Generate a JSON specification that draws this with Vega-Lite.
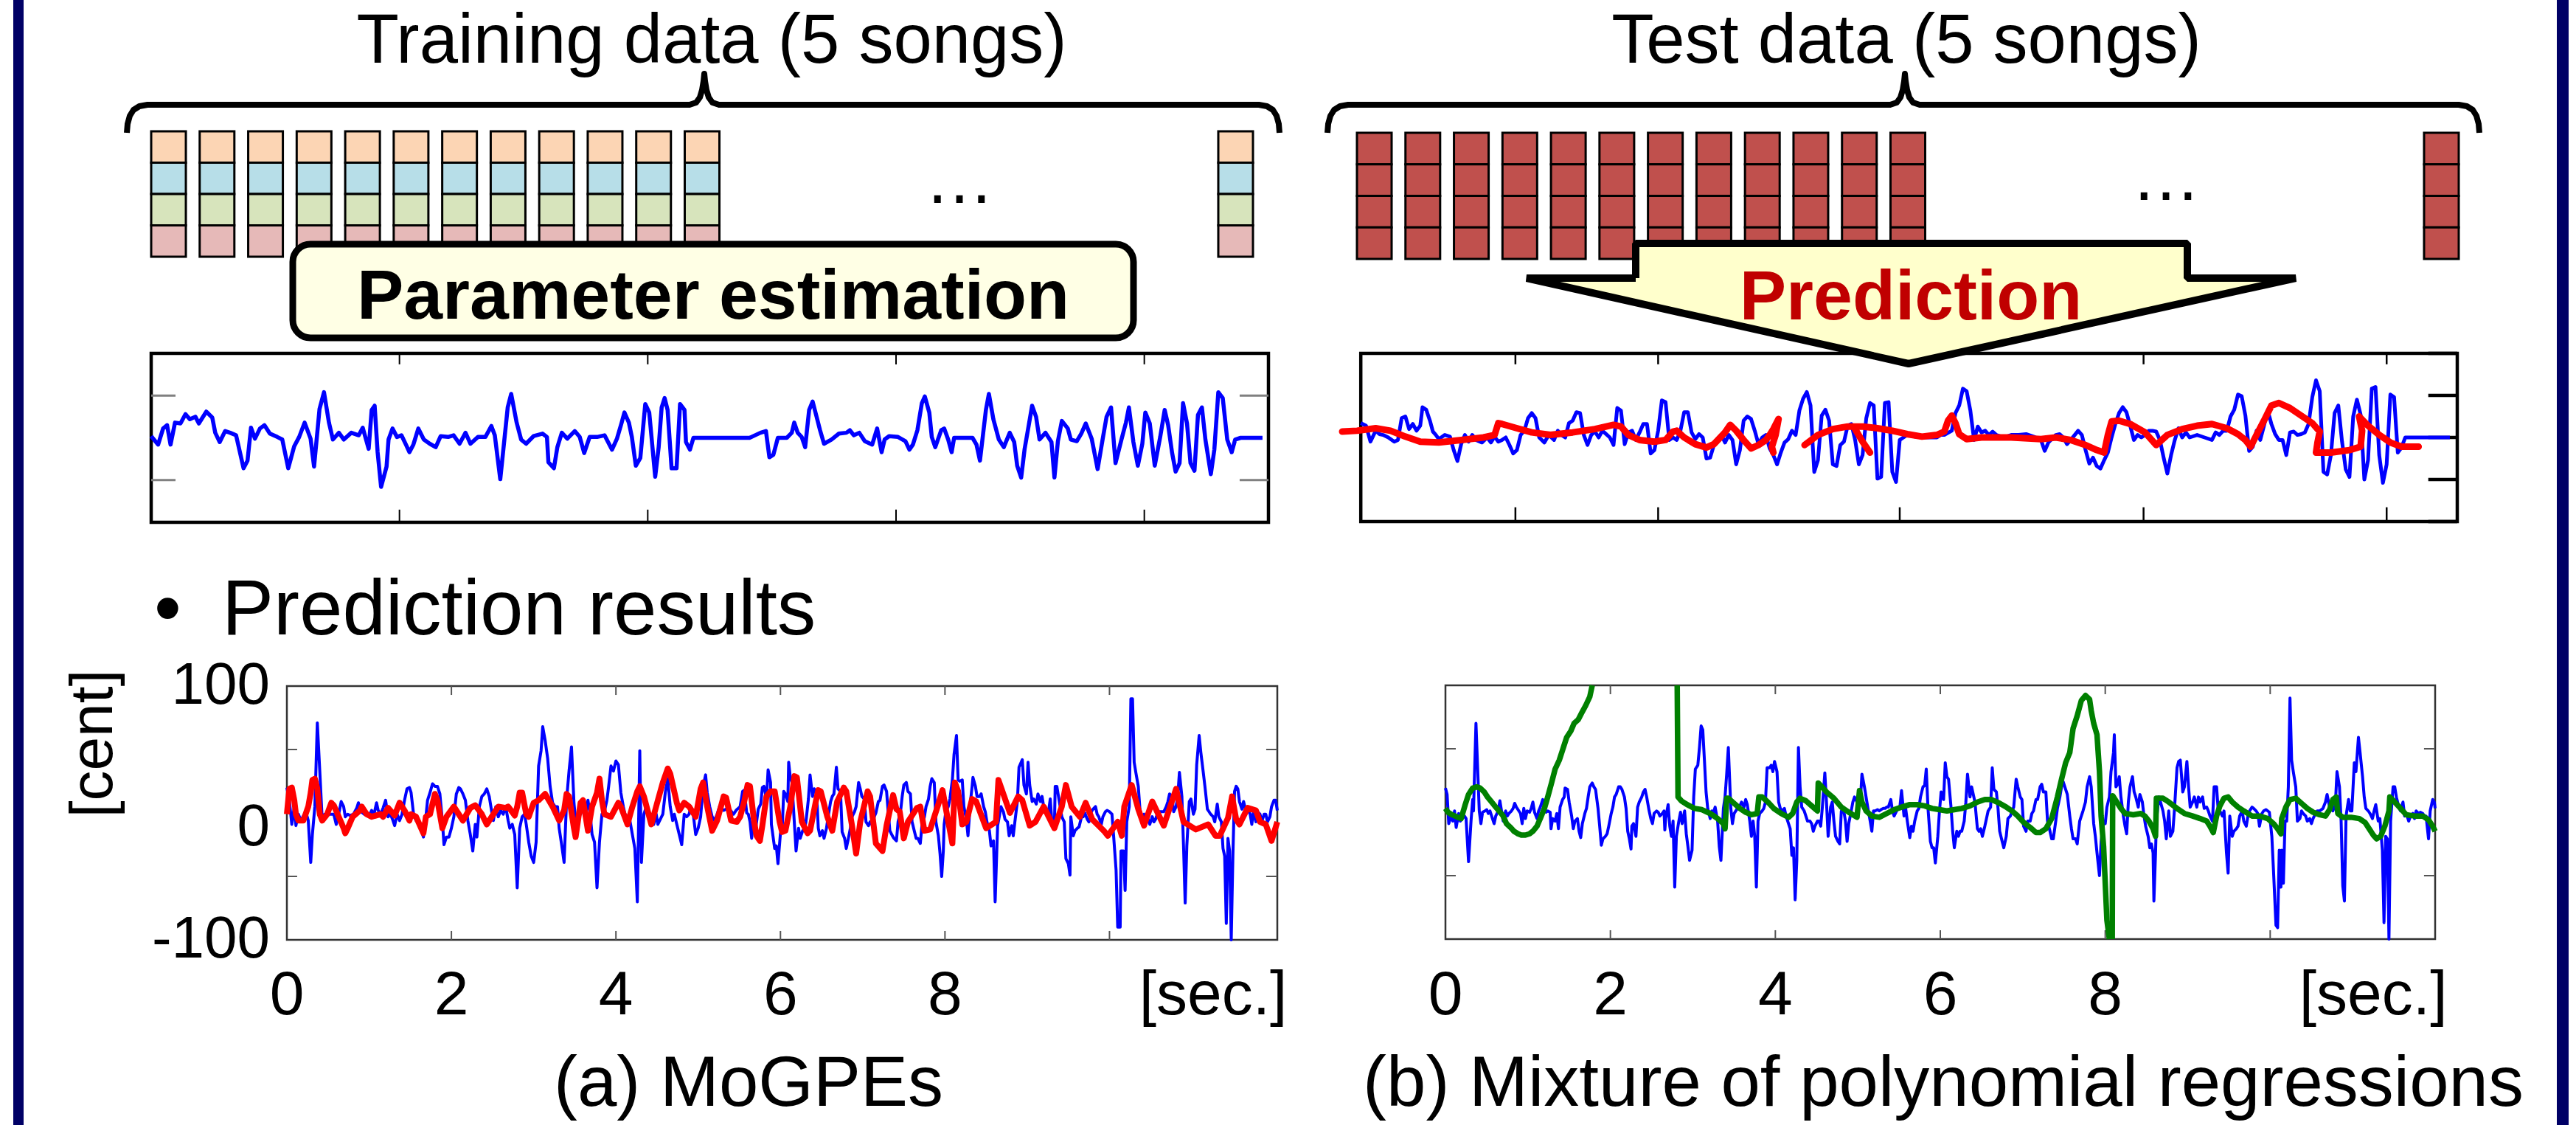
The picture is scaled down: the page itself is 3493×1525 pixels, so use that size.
{
"$schema": "https://vega.github.io/schema/vega-lite/v6.json",
"width": 3493, "height": 1525,
"autosize": {"type": "none"}, "padding": 0,
"background": "white",
"config": {"view": {"stroke": null}, "font": "Liberation Sans"},
"datasets": {
"blocks": [{"c":"c1","r":"r1"},{"c":"c1","r":"r2"},{"c":"c1","r":"r3"},{"c":"c1","r":"r4"},{"c":"c2","r":"r1"},{"c":"c2","r":"r2"},{"c":"c2","r":"r3"},{"c":"c2","r":"r4"},{"c":"c3","r":"r1"},{"c":"c3","r":"r2"},{"c":"c3","r":"r3"},{"c":"c3","r":"r4"},{"c":"c4","r":"r1"},{"c":"c4","r":"r2"},{"c":"c4","r":"r3"},{"c":"c4","r":"r4"},{"c":"c5","r":"r1"},{"c":"c5","r":"r2"},{"c":"c5","r":"r3"},{"c":"c5","r":"r4"},{"c":"c6","r":"r1"},{"c":"c6","r":"r2"},{"c":"c6","r":"r3"},{"c":"c6","r":"r4"},{"c":"c7","r":"r1"},{"c":"c7","r":"r2"},{"c":"c7","r":"r3"},{"c":"c7","r":"r4"},{"c":"c8","r":"r1"},{"c":"c8","r":"r2"},{"c":"c8","r":"r3"},{"c":"c8","r":"r4"},{"c":"c9","r":"r1"},{"c":"c9","r":"r2"},{"c":"c9","r":"r3"},{"c":"c9","r":"r4"},{"c":"c10","r":"r1"},{"c":"c10","r":"r2"},{"c":"c10","r":"r3"},{"c":"c10","r":"r4"},{"c":"c11","r":"r1"},{"c":"c11","r":"r2"},{"c":"c11","r":"r3"},{"c":"c11","r":"r4"},{"c":"c12","r":"r1"},{"c":"c12","r":"r2"},{"c":"c12","r":"r3"},{"c":"c12","r":"r4"},{"c":"c23","r":"r1"},{"c":"c23","r":"r2"},{"c":"c23","r":"r3"},{"c":"c23","r":"r4"}],
"tl": [{"t":0,"v":2},{"t":0.14,"v":-8},{"t":0.24,"v":11},{"t":0.32,"v":15},{"t":0.39,"v":-8},{"t":0.48,"v":18},{"t":0.59,"v":17},{"t":0.69,"v":28},{"t":0.78,"v":22},{"t":0.89,"v":25},{"t":0.96,"v":17},{"t":1.11,"v":31},{"t":1.23,"v":24},{"t":1.29,"v":6},{"t":1.38,"v":-5},{"t":1.49,"v":8},{"t":1.59,"v":6},{"t":1.71,"v":3},{"t":1.86,"v":-36},{"t":1.94,"v":-27},{"t":2.01,"v":12},{"t":2.09,"v":-1},{"t":2.19,"v":11},{"t":2.28,"v":15},{"t":2.39,"v":5},{"t":2.54,"v":1},{"t":2.64,"v":-2},{"t":2.76,"v":-36},{"t":2.88,"v":-10},{"t":2.98,"v":1},{"t":3.09,"v":18},{"t":3.21,"v":-1},{"t":3.28,"v":-34},{"t":3.39,"v":34},{"t":3.48,"v":54},{"t":3.58,"v":18},{"t":3.66,"v":-2},{"t":3.78,"v":6},{"t":3.88,"v":-2},{"t":4.03,"v":6},{"t":4.18,"v":3},{"t":4.26,"v":12},{"t":4.38,"v":-13},{"t":4.44,"v":33},{"t":4.5,"v":38},{"t":4.56,"v":-17},{"t":4.63,"v":-58},{"t":4.74,"v":-34},{"t":4.78,"v":-2},{"t":4.86,"v":11},{"t":4.95,"v":1},{"t":5.04,"v":3},{"t":5.13,"v":-8},{"t":5.2,"v":-17},{"t":5.28,"v":-8},{"t":5.38,"v":11},{"t":5.49,"v":-2},{"t":5.61,"v":-7},{"t":5.73,"v":-11},{"t":5.83,"v":2},{"t":5.98,"v":1},{"t":6.09,"v":3},{"t":6.21,"v":-7},{"t":6.33,"v":6},{"t":6.43,"v":-7},{"t":6.58,"v":1},{"t":6.73,"v":1},{"t":6.85,"v":14},{"t":6.92,"v":3},{"t":7.03,"v":-49},{"t":7.18,"v":36},{"t":7.25,"v":52},{"t":7.36,"v":18},{"t":7.45,"v":-2},{"t":7.55,"v":-7},{"t":7.7,"v":2},{"t":7.88,"v":5},{"t":7.97,"v":1},{"t":8,"v":-29},{"t":8.11,"v":-36},{"t":8.18,"v":-11},{"t":8.27,"v":6},{"t":8.38,"v":-1},{"t":8.53,"v":8},{"t":8.63,"v":1},{"t":8.72,"v":-18},{"t":8.83,"v":1},{"t":8.98,"v":1},{"t":9.13,"v":3},{"t":9.28,"v":-14},{"t":9.38,"v":-1},{"t":9.47,"v":17},{"t":9.53,"v":30},{"t":9.62,"v":18},{"t":9.68,"v":1},{"t":9.76,"v":-33},{"t":9.85,"v":-24},{"t":9.95,"v":40},{"t":10.03,"v":30},{"t":10.15,"v":-46},{"t":10.22,"v":-11},{"t":10.28,"v":36},{"t":10.34,"v":47},{"t":10.4,"v":33},{"t":10.48,"v":-36},{"t":10.58,"v":-36},{"t":10.65,"v":40},{"t":10.74,"v":33},{"t":10.77,"v":-5},{"t":10.85,"v":-14},{"t":10.92,"v":0},{"t":12.05,"v":0},{"t":12.27,"v":6},{"t":12.38,"v":8},{"t":12.45,"v":-23},{"t":12.53,"v":-20},{"t":12.62,"v":0},{"t":12.8,"v":0},{"t":12.9,"v":6},{"t":12.95,"v":18},{"t":13.02,"v":6},{"t":13.1,"v":1},{"t":13.17,"v":-11},{"t":13.25,"v":33},{"t":13.32,"v":43},{"t":13.4,"v":25},{"t":13.47,"v":9},{"t":13.55,"v":-7},{"t":13.7,"v":-2},{"t":13.85,"v":5},{"t":14,"v":6},{"t":14.07,"v":9},{"t":14.15,"v":3},{"t":14.26,"v":6},{"t":14.37,"v":-4},{"t":14.52,"v":-8},{"t":14.62,"v":11},{"t":14.71,"v":-17},{"t":14.77,"v":-2},{"t":14.86,"v":2},{"t":15.04,"v":1},{"t":15.19,"v":-4},{"t":15.27,"v":-14},{"t":15.34,"v":-8},{"t":15.43,"v":9},{"t":15.52,"v":41},{"t":15.58,"v":49},{"t":15.67,"v":30},{"t":15.72,"v":1},{"t":15.79,"v":-11},{"t":15.91,"v":9},{"t":15.97,"v":11},{"t":16.05,"v":-2},{"t":16.12,"v":-17},{"t":16.17,"v":0},{"t":16.54,"v":0},{"t":16.62,"v":-8},{"t":16.69,"v":-27},{"t":16.81,"v":33},{"t":16.87,"v":52},{"t":16.96,"v":22},{"t":17.07,"v":-2},{"t":17.17,"v":-11},{"t":17.29,"v":6},{"t":17.38,"v":-5},{"t":17.44,"v":-33},{"t":17.52,"v":-47},{"t":17.59,"v":-13},{"t":17.67,"v":14},{"t":17.74,"v":38},{"t":17.82,"v":25},{"t":17.89,"v":-2},{"t":18.01,"v":6},{"t":18.13,"v":-5},{"t":18.19,"v":-47},{"t":18.26,"v":-4},{"t":18.34,"v":20},{"t":18.46,"v":11},{"t":18.52,"v":-2},{"t":18.64,"v":-4},{"t":18.73,"v":5},{"t":18.82,"v":17},{"t":18.94,"v":-1},{"t":19.06,"v":-37},{"t":19.16,"v":-2},{"t":19.24,"v":25},{"t":19.33,"v":36},{"t":19.42,"v":-30},{"t":19.54,"v":-2},{"t":19.63,"v":18},{"t":19.69,"v":36},{"t":19.78,"v":-5},{"t":19.87,"v":-33},{"t":19.96,"v":-7},{"t":20.02,"v":30},{"t":20.11,"v":17},{"t":20.21,"v":-33},{"t":20.32,"v":1},{"t":20.41,"v":33},{"t":20.48,"v":15},{"t":20.56,"v":-18},{"t":20.63,"v":-40},{"t":20.71,"v":-30},{"t":20.78,"v":41},{"t":20.86,"v":17},{"t":20.93,"v":-30},{"t":21.01,"v":-39},{"t":21.08,"v":27},{"t":21.16,"v":36},{"t":21.23,"v":-2},{"t":21.34,"v":-43},{"t":21.41,"v":-14},{"t":21.49,"v":54},{"t":21.58,"v":47},{"t":21.67,"v":-2},{"t":21.76,"v":-17},{"t":21.83,"v":-2},{"t":21.94,"v":0},{"t":22.38,"v":0}],
"trb": [{"t":0.25,"v":17},{"t":0.32,"v":14},{"t":0.38,"v":-5},{"t":0.45,"v":8},{"t":0.5,"v":4},{"t":0.55,"v":3},{"t":0.62,"v":0},{"t":0.7,"v":-5},{"t":0.75,"v":-3},{"t":0.8,"v":23},{"t":0.85,"v":25},{"t":0.9,"v":10},{"t":0.95,"v":16},{"t":1,"v":8},{"t":1.05,"v":14},{"t":1.08,"v":36},{"t":1.13,"v":33},{"t":1.18,"v":20},{"t":1.22,"v":7},{"t":1.26,"v":3},{"t":1.3,"v":-2},{"t":1.38,"v":3},{"t":1.45,"v":1},{"t":1.5,"v":-15},{"t":1.55,"v":-28},{"t":1.6,"v":-8},{"t":1.65,"v":3},{"t":1.7,"v":-5},{"t":1.75,"v":3},{"t":1.8,"v":-3},{"t":1.88,"v":-6},{"t":1.95,"v":0},{"t":2,"v":-6},{"t":2.05,"v":1},{"t":2.1,"v":-5},{"t":2.15,"v":-3},{"t":2.2,"v":0},{"t":2.25,"v":-9},{"t":2.3,"v":-19},{"t":2.35,"v":-15},{"t":2.4,"v":3},{"t":2.45,"v":8},{"t":2.5,"v":23},{"t":2.55,"v":29},{"t":2.6,"v":23},{"t":2.65,"v":0},{"t":2.72,"v":-6},{"t":2.78,"v":3},{"t":2.85,"v":-3},{"t":2.9,"v":8},{"t":2.95,"v":3},{"t":3,"v":0},{"t":3.05,"v":17},{"t":3.1,"v":20},{"t":3.15,"v":30},{"t":3.2,"v":29},{"t":3.25,"v":3},{"t":3.3,"v":-9},{"t":3.35,"v":3},{"t":3.4,"v":7},{"t":3.45,"v":0},{"t":3.5,"v":8},{"t":3.55,"v":4},{"t":3.6,"v":0},{"t":3.65,"v":-9},{"t":3.7,"v":35},{"t":3.75,"v":32},{"t":3.8,"v":-8},{"t":3.85,"v":6},{"t":3.9,"v":8},{"t":3.95,"v":-3},{"t":4,"v":6},{"t":4.05,"v":16},{"t":4.1,"v":16},{"t":4.15,"v":-19},{"t":4.2,"v":-15},{"t":4.25,"v":8},{"t":4.3,"v":44},{"t":4.35,"v":42},{"t":4.4,"v":-3},{"t":4.45,"v":0},{"t":4.5,"v":-3},{"t":4.55,"v":8},{"t":4.6,"v":30},{"t":4.65,"v":30},{"t":4.7,"v":6},{"t":4.75,"v":-2},{"t":4.8,"v":4},{"t":4.85,"v":0},{"t":4.9,"v":-25},{"t":4.95,"v":-24},{"t":5,"v":-9},{"t":5.05,"v":-5},{"t":5.1,"v":3},{"t":5.15,"v":-6},{"t":5.2,"v":3},{"t":5.25,"v":-3},{"t":5.3,"v":-32},{"t":5.35,"v":-15},{"t":5.4,"v":20},{"t":5.45,"v":25},{"t":5.5,"v":22},{"t":5.55,"v":8},{"t":5.6,"v":-8},{"t":5.65,"v":0},{"t":5.7,"v":3},{"t":5.75,"v":-13},{"t":5.8,"v":-21},{"t":5.85,"v":-32},{"t":5.9,"v":-18},{"t":5.95,"v":-6},{"t":6,"v":-2},{"t":6.05,"v":8},{"t":6.1,"v":3},{"t":6.15,"v":32},{"t":6.2,"v":46},{"t":6.25,"v":54},{"t":6.3,"v":38},{"t":6.35,"v":-41},{"t":6.4,"v":-27},{"t":6.45,"v":26},{"t":6.5,"v":33},{"t":6.55,"v":20},{"t":6.6,"v":-32},{"t":6.65,"v":-34},{"t":6.7,"v":-9},{"t":6.75,"v":-5},{"t":6.8,"v":14},{"t":6.85,"v":16},{"t":6.9,"v":-3},{"t":6.95,"v":-32},{"t":7,"v":-21},{"t":7.05,"v":23},{"t":7.1,"v":41},{"t":7.15,"v":38},{"t":7.2,"v":-49},{"t":7.25,"v":-47},{"t":7.3,"v":41},{"t":7.35,"v":42},{"t":7.4,"v":-41},{"t":7.45,"v":-53},{"t":7.5,"v":-3},{"t":7.55,"v":0},{"t":7.6,"v":3},{"t":7.7,"v":1},{"t":7.8,"v":0},{"t":8,"v":0},{"t":8.05,"v":3},{"t":8.1,"v":3},{"t":8.2,"v":8},{"t":8.25,"v":29},{"t":8.3,"v":38},{"t":8.35,"v":58},{"t":8.4,"v":55},{"t":8.45,"v":32},{"t":8.5,"v":-3},{"t":8.55,"v":13},{"t":8.6,"v":6},{"t":8.65,"v":8},{"t":8.7,"v":3},{"t":8.75,"v":7},{"t":8.8,"v":3},{"t":8.9,"v":0},{"t":9,"v":3},{"t":9.1,"v":3},{"t":9.2,"v":4},{"t":9.3,"v":1},{"t":9.4,"v":-3},{"t":9.45,"v":-16},{"t":9.5,"v":-6},{"t":9.6,"v":3},{"t":9.65,"v":4},{"t":9.7,"v":0},{"t":9.75,"v":-8},{"t":9.8,"v":-3},{"t":9.9,"v":8},{"t":9.95,"v":3},{"t":10,"v":-15},{"t":10.05,"v":-31},{"t":10.1,"v":-24},{"t":10.15,"v":-34},{"t":10.2,"v":-37},{"t":10.25,"v":-27},{"t":10.3,"v":-18},{"t":10.35,"v":0},{"t":10.4,"v":16},{"t":10.45,"v":29},{"t":10.5,"v":36},{"t":10.55,"v":30},{"t":10.6,"v":14},{"t":10.65,"v":-3},{"t":10.7,"v":3},{"t":10.75,"v":0},{"t":10.8,"v":3},{"t":10.85,"v":8},{"t":10.9,"v":8},{"t":10.95,"v":7},{"t":11,"v":-3},{"t":11.05,"v":-24},{"t":11.1,"v":-43},{"t":11.15,"v":-21},{"t":11.2,"v":-3},{"t":11.25,"v":11},{"t":11.3,"v":0},{"t":11.35,"v":6},{"t":11.4,"v":0},{"t":11.5,"v":3},{"t":11.6,"v":0},{"t":11.7,"v":-3},{"t":11.75,"v":6},{"t":11.8,"v":3},{"t":11.85,"v":8},{"t":11.9,"v":8},{"t":11.95,"v":25},{"t":12,"v":33},{"t":12.05,"v":51},{"t":12.1,"v":49},{"t":12.15,"v":26},{"t":12.2,"v":-16},{"t":12.25,"v":-11},{"t":12.3,"v":8},{"t":12.35,"v":-3},{"t":12.4,"v":14},{"t":12.45,"v":32},{"t":12.5,"v":16},{"t":12.55,"v":4},{"t":12.6,"v":-3},{"t":12.65,"v":-3},{"t":12.7,"v":-21},{"t":12.75,"v":6},{"t":12.8,"v":7},{"t":12.85,"v":3},{"t":12.9,"v":4},{"t":12.95,"v":6},{"t":13,"v":16},{"t":13.05,"v":48},{"t":13.1,"v":68},{"t":13.15,"v":55},{"t":13.2,"v":-41},{"t":13.25,"v":-44},{"t":13.3,"v":-21},{"t":13.35,"v":29},{"t":13.4,"v":38},{"t":13.45,"v":-5},{"t":13.5,"v":-38},{"t":13.55,"v":-47},{"t":13.6,"v":25},{"t":13.65,"v":45},{"t":13.7,"v":27},{"t":13.75,"v":-50},{"t":13.8,"v":-27},{"t":13.85,"v":58},{"t":13.9,"v":60},{"t":13.95,"v":-21},{"t":14,"v":-54},{"t":14.05,"v":-32},{"t":14.1,"v":51},{"t":14.15,"v":48},{"t":14.2,"v":-18},{"t":14.25,"v":-12},{"t":14.3,"v":0},{"t":14.9,"v":0}],
"trr": [{"s":"a","t":0,"v":7},{"s":"a","t":0.2,"v":8},{"s":"a","t":0.45,"v":11},{"s":"a","t":0.65,"v":8},{"s":"a","t":0.85,"v":1},{"s":"a","t":1.05,"v":-5},{"s":"a","t":1.3,"v":-6},{"s":"a","t":1.6,"v":-3},{"s":"a","t":1.9,"v":0},{"s":"a","t":2.05,"v":3},{"s":"a","t":2.1,"v":17},{"s":"a","t":2.15,"v":16},{"s":"a","t":2.35,"v":11},{"s":"a","t":2.55,"v":6},{"s":"a","t":2.8,"v":3},{"s":"a","t":3.1,"v":6},{"s":"a","t":3.4,"v":10},{"s":"a","t":3.65,"v":15},{"s":"a","t":3.75,"v":13},{"s":"a","t":3.85,"v":3},{"s":"a","t":4,"v":-3},{"s":"a","t":4.2,"v":-5},{"s":"a","t":4.35,"v":-3},{"s":"a","t":4.45,"v":7},{"s":"a","t":4.5,"v":8},{"s":"a","t":4.6,"v":0},{"s":"a","t":4.75,"v":-8},{"s":"a","t":4.9,"v":-12},{"s":"a","t":5,"v":-8},{"s":"a","t":5.15,"v":6},{"s":"a","t":5.22,"v":15},{"s":"a","t":5.3,"v":8},{"s":"a","t":5.4,"v":-3},{"s":"a","t":5.5,"v":-13},{"s":"a","t":5.6,"v":-9},{"s":"a","t":5.7,"v":-3},{"s":"a","t":5.75,"v":3},{"s":"a","t":5.8,"v":10},{"s":"a","t":5.87,"v":22},{"s":"a","t":5.83,"v":3},{"s":"a","t":5.78,"v":-11},{"s":"a","t":5.8,"v":-18},{"s":"b","t":6.22,"v":-9},{"s":"b","t":6.4,"v":3},{"s":"b","t":6.6,"v":10},{"s":"b","t":6.8,"v":13},{"s":"b","t":7,"v":13},{"s":"b","t":7.2,"v":11},{"s":"b","t":7.4,"v":8},{"s":"b","t":7.6,"v":4},{"s":"b","t":7.8,"v":1},{"s":"b","t":8,"v":3},{"s":"b","t":8.1,"v":7},{"s":"b","t":8.15,"v":20},{"s":"b","t":8.2,"v":26},{"s":"b","t":8.25,"v":17},{"s":"b","t":8.3,"v":4},{"s":"b","t":8.4,"v":-2},{"s":"b","t":8.6,"v":0},{"s":"b","t":9,"v":0},{"s":"b","t":9.4,"v":-2},{"s":"b","t":9.6,"v":0},{"s":"b","t":9.8,"v":-3},{"s":"b","t":10,"v":-9},{"s":"b","t":10.15,"v":-15},{"s":"b","t":10.25,"v":-18},{"s":"b","t":10.3,"v":3},{"s":"b","t":10.35,"v":19},{"s":"b","t":10.45,"v":20},{"s":"b","t":10.6,"v":16},{"s":"b","t":10.8,"v":6},{"s":"b","t":10.95,"v":-9},{"s":"b","t":11.1,"v":3},{"s":"b","t":11.3,"v":10},{"s":"b","t":11.5,"v":14},{"s":"b","t":11.7,"v":16},{"s":"b","t":11.9,"v":11},{"s":"b","t":12.05,"v":4},{"s":"b","t":12.15,"v":-3},{"s":"b","t":12.22,"v":-11},{"s":"b","t":12.3,"v":3},{"s":"b","t":12.4,"v":20},{"s":"b","t":12.5,"v":38},{"s":"b","t":12.6,"v":41},{"s":"b","t":12.75,"v":35},{"s":"b","t":12.9,"v":26},{"s":"b","t":13.05,"v":17},{"s":"b","t":13.15,"v":7},{"s":"b","t":13.12,"v":-6},{"s":"b","t":13.1,"v":-18},{"s":"b","t":13.3,"v":-18},{"s":"b","t":13.55,"v":-15},{"s":"b","t":13.7,"v":-11},{"s":"b","t":13.72,"v":8},{"s":"b","t":13.68,"v":25},{"s":"b","t":13.8,"v":14},{"s":"b","t":13.95,"v":3},{"s":"b","t":14.1,"v":-6},{"s":"b","t":14.25,"v":-11},{"s":"b","t":14.48,"v":-11},{"s":"c","t":6.9,"v":10},{"s":"c","t":7,"v":-5},{"s":"c","t":7.1,"v":-18}],
"blb": [{"t":0,"v":20},{"t":0.03,"v":10},{"t":0.06,"v":-9},{"t":0.09,"v":5},{"t":0.11,"v":-10},{"t":0.14,"v":-1},{"t":0.17,"v":-6},{"t":0.23,"v":1},{"t":0.26,"v":-6},{"t":0.29,"v":-39},{"t":0.31,"v":-17},{"t":0.34,"v":5},{"t":0.37,"v":71},{"t":0.4,"v":33},{"t":0.43,"v":-6},{"t":0.46,"v":-1},{"t":0.51,"v":-1},{"t":0.57,"v":-1},{"t":0.6,"v":-9},{"t":0.63,"v":-1},{"t":0.66,"v":9},{"t":0.69,"v":5},{"t":0.71,"v":-3},{"t":0.74,"v":-1},{"t":0.77,"v":-2},{"t":0.81,"v":-1},{"t":0.85,"v":4},{"t":0.87,"v":8},{"t":0.9,"v":1},{"t":0.94,"v":-1},{"t":1,"v":-2},{"t":1.03,"v":2},{"t":1.06,"v":-1},{"t":1.09,"v":8},{"t":1.11,"v":2},{"t":1.14,"v":-1},{"t":1.17,"v":4},{"t":1.2,"v":10},{"t":1.23,"v":-3},{"t":1.26,"v":-1},{"t":1.29,"v":-6},{"t":1.31,"v":-10},{"t":1.34,"v":-1},{"t":1.37,"v":-6},{"t":1.4,"v":-1},{"t":1.43,"v":10},{"t":1.46,"v":19},{"t":1.49,"v":20},{"t":1.51,"v":16},{"t":1.54,"v":-1},{"t":1.57,"v":-6},{"t":1.6,"v":-6},{"t":1.66,"v":-19},{"t":1.69,"v":-3},{"t":1.71,"v":10},{"t":1.74,"v":16},{"t":1.77,"v":23},{"t":1.8,"v":21},{"t":1.83,"v":21},{"t":1.86,"v":15},{"t":1.89,"v":-6},{"t":1.91,"v":-25},{"t":1.94,"v":-19},{"t":1.97,"v":-19},{"t":2,"v":-12},{"t":2.03,"v":-3},{"t":2.06,"v":15},{"t":2.09,"v":20},{"t":2.11,"v":19},{"t":2.14,"v":15},{"t":2.17,"v":10},{"t":2.2,"v":-6},{"t":2.23,"v":-17},{"t":2.26,"v":-30},{"t":2.29,"v":-9},{"t":2.31,"v":-19},{"t":2.34,"v":5},{"t":2.37,"v":13},{"t":2.4,"v":15},{"t":2.43,"v":19},{"t":2.46,"v":13},{"t":2.49,"v":1},{"t":2.51,"v":-6},{"t":2.54,"v":5},{"t":2.57,"v":-3},{"t":2.6,"v":2},{"t":2.63,"v":-1},{"t":2.66,"v":5},{"t":2.69,"v":-6},{"t":2.71,"v":-12},{"t":2.74,"v":-9},{"t":2.77,"v":-17},{"t":2.8,"v":-59},{"t":2.83,"v":-12},{"t":2.86,"v":-3},{"t":2.89,"v":-1},{"t":2.91,"v":-9},{"t":2.94,"v":-23},{"t":2.97,"v":-34},{"t":3,"v":-39},{"t":3.03,"v":-23},{"t":3.06,"v":37},{"t":3.09,"v":49},{"t":3.11,"v":68},{"t":3.14,"v":57},{"t":3.17,"v":43},{"t":3.2,"v":21},{"t":3.23,"v":8},{"t":3.26,"v":5},{"t":3.29,"v":5},{"t":3.31,"v":-12},{"t":3.34,"v":-25},{"t":3.37,"v":-39},{"t":3.4,"v":10},{"t":3.43,"v":33},{"t":3.46,"v":52},{"t":3.49,"v":8},{"t":3.51,"v":-6},{"t":3.54,"v":-3},{"t":3.57,"v":-1},{"t":3.6,"v":5},{"t":3.63,"v":-1},{"t":3.66,"v":10},{"t":3.69,"v":-3},{"t":3.71,"v":-17},{"t":3.74,"v":-23},{"t":3.77,"v":-59},{"t":3.8,"v":-23},{"t":3.83,"v":-1},{"t":3.86,"v":1},{"t":3.89,"v":10},{"t":3.91,"v":20},{"t":3.94,"v":37},{"t":3.97,"v":33},{"t":4,"v":41},{"t":4.03,"v":38},{"t":4.06,"v":16},{"t":4.09,"v":5},{"t":4.11,"v":-1},{"t":4.14,"v":-3},{"t":4.17,"v":-6},{"t":4.2,"v":-17},{"t":4.23,"v":-28},{"t":4.26,"v":-70},{"t":4.29,"v":49},{"t":4.31,"v":-39},{"t":4.34,"v":-1},{"t":4.37,"v":5},{"t":4.4,"v":-1},{"t":4.43,"v":-3},{"t":4.46,"v":-9},{"t":4.49,"v":-1},{"t":4.51,"v":-9},{"t":4.57,"v":-1},{"t":4.6,"v":16},{"t":4.63,"v":27},{"t":4.66,"v":5},{"t":4.69,"v":-6},{"t":4.71,"v":-1},{"t":4.74,"v":-9},{"t":4.77,"v":-17},{"t":4.8,"v":-25},{"t":4.83,"v":-1},{"t":4.86,"v":-3},{"t":4.89,"v":-1},{"t":4.91,"v":5},{"t":4.94,"v":-1},{"t":4.97,"v":-17},{"t":5,"v":-12},{"t":5.03,"v":-3},{"t":5.06,"v":21},{"t":5.09,"v":30},{"t":5.11,"v":16},{"t":5.14,"v":5},{"t":5.17,"v":-3},{"t":5.2,"v":-6},{"t":5.23,"v":-1},{"t":5.26,"v":5},{"t":5.31,"v":2},{"t":5.37,"v":4},{"t":5.43,"v":-1},{"t":5.46,"v":2},{"t":5.51,"v":5},{"t":5.54,"v":17},{"t":5.56,"v":18},{"t":5.59,"v":0},{"t":5.61,"v":-1},{"t":5.63,"v":-7},{"t":5.65,"v":-20},{"t":5.67,"v":-7},{"t":5.7,"v":-12},{"t":5.73,"v":3},{"t":5.76,"v":7},{"t":5.78,"v":20},{"t":5.8,"v":21},{"t":5.83,"v":11},{"t":5.85,"v":34},{"t":5.88,"v":24},{"t":5.89,"v":-9},{"t":5.93,"v":-28},{"t":5.95,"v":-26},{"t":5.97,"v":-40},{"t":6,"v":-16},{"t":6.02,"v":-14},{"t":6.04,"v":17},{"t":6.06,"v":15},{"t":6.09,"v":9},{"t":6.1,"v":40},{"t":6.12,"v":28},{"t":6.14,"v":24},{"t":6.17,"v":-9},{"t":6.19,"v":-30},{"t":6.22,"v":-12},{"t":6.24,"v":-20},{"t":6.27,"v":-14},{"t":6.29,"v":-14},{"t":6.31,"v":-7},{"t":6.34,"v":11},{"t":6.36,"v":30},{"t":6.39,"v":13},{"t":6.41,"v":19},{"t":6.44,"v":15},{"t":6.46,"v":-12},{"t":6.48,"v":-18},{"t":6.51,"v":-14},{"t":6.53,"v":-20},{"t":6.56,"v":-12},{"t":6.58,"v":-3},{"t":6.61,"v":9},{"t":6.63,"v":13},{"t":6.65,"v":15},{"t":6.68,"v":36},{"t":6.7,"v":19},{"t":6.73,"v":17},{"t":6.75,"v":-15},{"t":6.78,"v":-20},{"t":6.8,"v":-28},{"t":6.82,"v":-22},{"t":6.85,"v":-12},{"t":6.87,"v":-3},{"t":6.9,"v":1},{"t":6.92,"v":5},{"t":6.95,"v":24},{"t":6.97,"v":19},{"t":6.99,"v":13},{"t":7.02,"v":11},{"t":7.04,"v":-7},{"t":7.07,"v":-10},{"t":7.09,"v":-7},{"t":7.12,"v":-10},{"t":7.14,"v":-3},{"t":7.16,"v":0},{"t":7.19,"v":9},{"t":7.21,"v":10},{"t":7.24,"v":21},{"t":7.26,"v":22},{"t":7.29,"v":17},{"t":7.31,"v":1},{"t":7.33,"v":-14},{"t":7.36,"v":-18},{"t":7.38,"v":-20},{"t":7.41,"v":-22},{"t":7.43,"v":-7},{"t":7.46,"v":1},{"t":7.48,"v":13},{"t":7.5,"v":22},{"t":7.53,"v":24},{"t":7.55,"v":17},{"t":7.58,"v":15},{"t":7.6,"v":-7},{"t":7.63,"v":-15},{"t":7.65,"v":-20},{"t":7.67,"v":-20},{"t":7.7,"v":-24},{"t":7.72,"v":-10},{"t":7.75,"v":-3},{"t":7.77,"v":5},{"t":7.8,"v":11},{"t":7.82,"v":21},{"t":7.84,"v":27},{"t":7.87,"v":24},{"t":7.89,"v":-7},{"t":7.92,"v":-18},{"t":7.94,"v":-32},{"t":7.96,"v":-50},{"t":7.98,"v":-30},{"t":7.99,"v":-9},{"t":8.01,"v":1},{"t":8.04,"v":5},{"t":8.06,"v":11},{"t":8.09,"v":26},{"t":8.11,"v":46},{"t":8.14,"v":61},{"t":8.16,"v":26},{"t":8.18,"v":25},{"t":8.21,"v":26},{"t":8.23,"v":5},{"t":8.26,"v":-5},{"t":8.28,"v":-18},{"t":8.31,"v":9},{"t":8.33,"v":21},{"t":8.34,"v":28},{"t":8.37,"v":21},{"t":8.39,"v":13},{"t":8.42,"v":13},{"t":8.44,"v":15},{"t":8.47,"v":5},{"t":8.49,"v":1},{"t":8.51,"v":-7},{"t":8.54,"v":-14},{"t":8.56,"v":-26},{"t":8.59,"v":-22},{"t":8.61,"v":-70},{"t":8.64,"v":-10},{"t":8.66,"v":-3},{"t":8.68,"v":5},{"t":8.71,"v":1},{"t":8.73,"v":-5},{"t":8.76,"v":-7},{"t":8.78,"v":-18},{"t":8.81,"v":-10},{"t":8.83,"v":-18},{"t":8.85,"v":-7},{"t":8.88,"v":9},{"t":8.9,"v":36},{"t":8.94,"v":42},{"t":8.96,"v":22},{"t":8.99,"v":15},{"t":9.01,"v":40},{"t":9.03,"v":22},{"t":9.06,"v":9},{"t":9.08,"v":11},{"t":9.11,"v":7},{"t":9.13,"v":15},{"t":9.16,"v":9},{"t":9.18,"v":13},{"t":9.2,"v":5},{"t":9.23,"v":1},{"t":9.25,"v":-3},{"t":9.28,"v":11},{"t":9.3,"v":-7},{"t":9.33,"v":-12},{"t":9.34,"v":21},{"t":9.36,"v":21},{"t":9.39,"v":9},{"t":9.42,"v":-3},{"t":9.45,"v":-7},{"t":9.47,"v":-36},{"t":9.5,"v":-40},{"t":9.52,"v":-49},{"t":9.53,"v":-3},{"t":9.56,"v":-18},{"t":9.58,"v":-14},{"t":9.61,"v":-12},{"t":9.63,"v":-11},{"t":9.66,"v":-3},{"t":9.68,"v":-3},{"t":9.7,"v":0},{"t":9.73,"v":-5},{"t":9.75,"v":-7},{"t":9.78,"v":1},{"t":9.8,"v":3},{"t":9.83,"v":5},{"t":9.85,"v":-1},{"t":9.87,"v":-3},{"t":9.9,"v":-9},{"t":9.92,"v":-3},{"t":9.95,"v":1},{"t":9.97,"v":2},{"t":10,"v":1},{"t":10.03,"v":-1},{"t":10.05,"v":-18},{"t":10.08,"v":-45},{"t":10.1,"v":-90},{"t":10.13,"v":-90},{"t":10.14,"v":-30},{"t":10.17,"v":-30},{"t":10.19,"v":-61},{"t":10.21,"v":-7},{"t":10.24,"v":5},{"t":10.26,"v":90},{"t":10.28,"v":90},{"t":10.3,"v":40},{"t":10.32,"v":32},{"t":10.35,"v":21},{"t":10.37,"v":3},{"t":10.39,"v":-3},{"t":10.42,"v":-1},{"t":10.44,"v":-7},{"t":10.47,"v":-5},{"t":10.49,"v":-9},{"t":10.52,"v":-3},{"t":10.54,"v":-7},{"t":10.56,"v":-5},{"t":10.59,"v":1},{"t":10.61,"v":1},{"t":10.66,"v":1},{"t":10.69,"v":5},{"t":10.71,"v":9},{"t":10.73,"v":15},{"t":10.76,"v":13},{"t":10.78,"v":1},{"t":10.81,"v":5},{"t":10.83,"v":13},{"t":10.85,"v":32},{"t":10.88,"v":13},{"t":10.9,"v":-26},{"t":10.92,"v":-71},{"t":10.94,"v":-26},{"t":10.97,"v":9},{"t":10.99,"v":11},{"t":11.02,"v":-1},{"t":11.04,"v":3},{"t":11.06,"v":38},{"t":11.09,"v":61},{"t":11.11,"v":48},{"t":11.14,"v":32},{"t":11.16,"v":21},{"t":11.19,"v":3},{"t":11.21,"v":1},{"t":11.23,"v":-1},{"t":11.26,"v":-3},{"t":11.28,"v":-7},{"t":11.31,"v":7},{"t":11.33,"v":-3},{"t":11.36,"v":-7},{"t":11.38,"v":-28},{"t":11.4,"v":-34},{"t":11.42,"v":-87},{"t":11.44,"v":-20},{"t":11.46,"v":-30},{"t":11.48,"v":-100},{"t":11.5,"v":-34},{"t":11.52,"v":17},{"t":11.54,"v":21},{"t":11.56,"v":19},{"t":11.58,"v":9},{"t":11.61,"v":3},{"t":11.63,"v":9},{"t":11.66,"v":1},{"t":11.68,"v":3},{"t":11.71,"v":-1},{"t":11.73,"v":-9},{"t":11.75,"v":1},{"t":11.78,"v":-7},{"t":11.8,"v":1},{"t":11.83,"v":-1},{"t":11.85,"v":-7},{"t":11.88,"v":-1},{"t":11.9,"v":-1},{"t":11.92,"v":-7},{"t":11.95,"v":-3},{"t":11.97,"v":5},{"t":12,"v":10},{"t":12.02,"v":10},{"t":12.04,"v":2}],
"blr": [{"t":0,"v":-1},{"t":0.03,"v":19},{"t":0.06,"v":20},{"t":0.09,"v":10},{"t":0.11,"v":-1},{"t":0.14,"v":-6},{"t":0.2,"v":-6},{"t":0.26,"v":5},{"t":0.29,"v":16},{"t":0.31,"v":26},{"t":0.34,"v":27},{"t":0.37,"v":19},{"t":0.4,"v":-1},{"t":0.43,"v":-6},{"t":0.49,"v":-1},{"t":0.54,"v":8},{"t":0.57,"v":6},{"t":0.63,"v":-3},{"t":0.69,"v":-12},{"t":0.71,"v":-16},{"t":0.74,"v":-12},{"t":0.8,"v":-3},{"t":0.89,"v":2},{"t":0.91,"v":5},{"t":0.97,"v":-1},{"t":1.03,"v":-3},{"t":1.14,"v":-1},{"t":1.17,"v":-3},{"t":1.23,"v":4},{"t":1.31,"v":-2},{"t":1.37,"v":8},{"t":1.43,"v":2},{"t":1.49,"v":-6},{"t":1.51,"v":-1},{"t":1.57,"v":-3},{"t":1.66,"v":-16},{"t":1.69,"v":-3},{"t":1.74,"v":-1},{"t":1.8,"v":15},{"t":1.83,"v":10},{"t":1.89,"v":-12},{"t":1.94,"v":-3},{"t":2.03,"v":5},{"t":2.09,"v":-1},{"t":2.14,"v":-6},{"t":2.23,"v":4},{"t":2.29,"v":6},{"t":2.37,"v":-1},{"t":2.43,"v":-9},{"t":2.51,"v":-1},{"t":2.57,"v":5},{"t":2.66,"v":4},{"t":2.69,"v":5},{"t":2.77,"v":-2},{"t":2.8,"v":5},{"t":2.83,"v":16},{"t":2.86,"v":16},{"t":2.91,"v":-1},{"t":2.94,"v":-3},{"t":3,"v":8},{"t":3.06,"v":10},{"t":3.14,"v":15},{"t":3.23,"v":5},{"t":3.31,"v":-6},{"t":3.37,"v":2},{"t":3.4,"v":15},{"t":3.43,"v":13},{"t":3.49,"v":-12},{"t":3.51,"v":-19},{"t":3.57,"v":8},{"t":3.6,"v":10},{"t":3.66,"v":-14},{"t":3.71,"v":5},{"t":3.77,"v":16},{"t":3.8,"v":27},{"t":3.83,"v":10},{"t":3.86,"v":-1},{"t":3.94,"v":-3},{"t":4.03,"v":8},{"t":4.06,"v":5},{"t":4.14,"v":-9},{"t":4.2,"v":5},{"t":4.26,"v":17},{"t":4.29,"v":21},{"t":4.34,"v":13},{"t":4.43,"v":-9},{"t":4.51,"v":10},{"t":4.57,"v":24},{"t":4.63,"v":35},{"t":4.66,"v":31},{"t":4.74,"v":8},{"t":4.77,"v":2},{"t":4.83,"v":8},{"t":4.89,"v":5},{"t":4.97,"v":-3},{"t":5.03,"v":19},{"t":5.06,"v":24},{"t":5.11,"v":5},{"t":5.17,"v":-14},{"t":5.23,"v":-6},{"t":5.31,"v":13},{"t":5.34,"v":12},{"t":5.4,"v":-6},{"t":5.47,"v":-7},{"t":5.51,"v":-3},{"t":5.56,"v":9},{"t":5.6,"v":22},{"t":5.63,"v":21},{"t":5.68,"v":-7},{"t":5.71,"v":-18},{"t":5.75,"v":-22},{"t":5.78,"v":-10},{"t":5.83,"v":13},{"t":5.88,"v":17},{"t":5.93,"v":17},{"t":5.99,"v":-7},{"t":6.02,"v":-15},{"t":6.06,"v":-14},{"t":6.12,"v":5},{"t":6.17,"v":29},{"t":6.2,"v":28},{"t":6.26,"v":-7},{"t":6.33,"v":-16},{"t":6.36,"v":-14},{"t":6.43,"v":9},{"t":6.46,"v":18},{"t":6.49,"v":17},{"t":6.57,"v":-3},{"t":6.63,"v":-14},{"t":6.69,"v":9},{"t":6.77,"v":20},{"t":6.8,"v":17},{"t":6.87,"v":-10},{"t":6.92,"v":-32},{"t":6.97,"v":-7},{"t":7.06,"v":17},{"t":7.09,"v":13},{"t":7.16,"v":-24},{"t":7.24,"v":-30},{"t":7.29,"v":-10},{"t":7.37,"v":14},{"t":7.41,"v":3},{"t":7.45,"v":1},{"t":7.5,"v":-20},{"t":7.55,"v":-7},{"t":7.66,"v":4},{"t":7.7,"v":5},{"t":7.75,"v":-14},{"t":7.82,"v":-13},{"t":7.92,"v":7},{"t":7.97,"v":18},{"t":8.04,"v":-7},{"t":8.09,"v":-24},{"t":8.12,"v":24},{"t":8.16,"v":17},{"t":8.21,"v":-9},{"t":8.26,"v":-7},{"t":8.33,"v":11},{"t":8.38,"v":9},{"t":8.5,"v":-12},{"t":8.62,"v":-7},{"t":8.65,"v":26},{"t":8.72,"v":13},{"t":8.79,"v":0},{"t":8.89,"v":13},{"t":8.94,"v":10},{"t":9.03,"v":-10},{"t":9.1,"v":-7},{"t":9.2,"v":5},{"t":9.33,"v":-12},{"t":9.42,"v":5},{"t":9.47,"v":22},{"t":9.54,"v":5},{"t":9.64,"v":-3},{"t":9.71,"v":8},{"t":9.79,"v":-5},{"t":9.93,"v":-14},{"t":9.98,"v":-18},{"t":10.1,"v":-7},{"t":10.15,"v":-18},{"t":10.18,"v":5},{"t":10.27,"v":22},{"t":10.35,"v":3},{"t":10.42,"v":-10},{"t":10.52,"v":9},{"t":10.66,"v":-10},{"t":10.81,"v":19},{"t":10.9,"v":-7},{"t":11.05,"v":-13},{"t":11.2,"v":-9},{"t":11.29,"v":-18},{"t":11.34,"v":-18},{"t":11.44,"v":-4},{"t":11.49,"v":13},{"t":11.54,"v":-5},{"t":11.58,"v":-9},{"t":11.68,"v":4},{"t":11.78,"v":2},{"t":11.83,"v":-7},{"t":11.9,"v":-9},{"t":11.97,"v":-22},{"t":12.04,"v":-7}],
"brb": [{"t":0,"v":19},{"t":0.02,"v":14},{"t":0.04,"v":-9},{"t":0.07,"v":-3},{"t":0.09,"v":-7},{"t":0.11,"v":1},{"t":0.13,"v":-12},{"t":0.16,"v":-1},{"t":0.18,"v":-7},{"t":0.2,"v":-5},{"t":0.23,"v":-3},{"t":0.25,"v":-5},{"t":0.28,"v":-39},{"t":0.31,"v":-7},{"t":0.33,"v":10},{"t":0.34,"v":1},{"t":0.37,"v":70},{"t":0.39,"v":35},{"t":0.41,"v":1},{"t":0.43,"v":-9},{"t":0.45,"v":0},{"t":0.48,"v":1},{"t":0.5,"v":2},{"t":0.52,"v":-1},{"t":0.54,"v":1},{"t":0.57,"v":-5},{"t":0.59,"v":-9},{"t":0.61,"v":-3},{"t":0.64,"v":1},{"t":0.66,"v":9},{"t":0.68,"v":1},{"t":0.7,"v":-7},{"t":0.73,"v":1},{"t":0.75,"v":-3},{"t":0.77,"v":-1},{"t":0.8,"v":1},{"t":0.82,"v":3},{"t":0.84,"v":7},{"t":0.86,"v":4},{"t":0.89,"v":1},{"t":0.91,"v":-1},{"t":0.93,"v":-9},{"t":0.95,"v":3},{"t":0.97,"v":-5},{"t":0.99,"v":1},{"t":1.02,"v":0},{"t":1.04,"v":3},{"t":1.06,"v":8},{"t":1.08,"v":0},{"t":1.11,"v":-5},{"t":1.13,"v":1},{"t":1.15,"v":4},{"t":1.18,"v":10},{"t":1.2,"v":4},{"t":1.22,"v":0},{"t":1.24,"v":1},{"t":1.27,"v":0},{"t":1.28,"v":-13},{"t":1.3,"v":-5},{"t":1.33,"v":-7},{"t":1.35,"v":-1},{"t":1.37,"v":-13},{"t":1.39,"v":4},{"t":1.42,"v":10},{"t":1.44,"v":12},{"t":1.45,"v":19},{"t":1.48,"v":18},{"t":1.5,"v":8},{"t":1.53,"v":-3},{"t":1.55,"v":-13},{"t":1.57,"v":-7},{"t":1.6,"v":-5},{"t":1.62,"v":-15},{"t":1.64,"v":-20},{"t":1.66,"v":-9},{"t":1.69,"v":-1},{"t":1.71,"v":3},{"t":1.73,"v":12},{"t":1.75,"v":20},{"t":1.78,"v":23},{"t":1.8,"v":20},{"t":1.82,"v":18},{"t":1.85,"v":3},{"t":1.87,"v":-11},{"t":1.89,"v":-26},{"t":1.91,"v":-21},{"t":1.94,"v":-19},{"t":1.96,"v":-17},{"t":1.98,"v":-11},{"t":2.01,"v":-1},{"t":2.03,"v":4},{"t":2.05,"v":12},{"t":2.07,"v":14},{"t":2.1,"v":20},{"t":2.12,"v":20},{"t":2.14,"v":18},{"t":2.17,"v":12},{"t":2.19,"v":3},{"t":2.21,"v":-15},{"t":2.23,"v":-21},{"t":2.25,"v":-29},{"t":2.26,"v":-11},{"t":2.28,"v":-9},{"t":2.31,"v":-19},{"t":2.33,"v":4},{"t":2.35,"v":8},{"t":2.38,"v":12},{"t":2.4,"v":16},{"t":2.42,"v":18},{"t":2.44,"v":12},{"t":2.47,"v":1},{"t":2.49,"v":-5},{"t":2.51,"v":-9},{"t":2.53,"v":-1},{"t":2.56,"v":1},{"t":2.58,"v":0},{"t":2.6,"v":-3},{"t":2.63,"v":-1},{"t":2.65,"v":1},{"t":2.66,"v":-14},{"t":2.67,"v":-5},{"t":2.7,"v":6},{"t":2.72,"v":-11},{"t":2.74,"v":-19},{"t":2.76,"v":-7},{"t":2.78,"v":-59},{"t":2.8,"v":-19},{"t":2.83,"v":-7},{"t":2.85,"v":0},{"t":2.87,"v":-9},{"t":2.9,"v":1},{"t":2.92,"v":-17},{"t":2.94,"v":-27},{"t":2.96,"v":-38},{"t":2.99,"v":-30},{"t":3.01,"v":12},{"t":3.03,"v":34},{"t":3.06,"v":37},{"t":3.08,"v":51},{"t":3.1,"v":68},{"t":3.12,"v":65},{"t":3.14,"v":41},{"t":3.16,"v":16},{"t":3.18,"v":3},{"t":3.21,"v":-5},{"t":3.23,"v":1},{"t":3.25,"v":0},{"t":3.27,"v":4},{"t":3.3,"v":-7},{"t":3.32,"v":-27},{"t":3.34,"v":-38},{"t":3.37,"v":3},{"t":3.39,"v":12},{"t":3.41,"v":30},{"t":3.43,"v":51},{"t":3.46,"v":3},{"t":3.48,"v":-9},{"t":3.5,"v":-1},{"t":3.53,"v":2},{"t":3.55,"v":4},{"t":3.57,"v":5},{"t":3.59,"v":8},{"t":3.62,"v":4},{"t":3.64,"v":10},{"t":3.66,"v":6},{"t":3.69,"v":-7},{"t":3.71,"v":-19},{"t":3.73,"v":-7},{"t":3.75,"v":-19},{"t":3.77,"v":-59},{"t":3.79,"v":-7},{"t":3.81,"v":-1},{"t":3.84,"v":1},{"t":3.86,"v":3},{"t":3.88,"v":8},{"t":3.9,"v":35},{"t":3.93,"v":35},{"t":3.95,"v":37},{"t":3.97,"v":32},{"t":3.99,"v":40},{"t":4.02,"v":32},{"t":4.04,"v":8},{"t":4.06,"v":3},{"t":4.09,"v":1},{"t":4.11,"v":3},{"t":4.13,"v":-3},{"t":4.15,"v":-7},{"t":4.18,"v":-13},{"t":4.2,"v":-34},{"t":4.22,"v":-28},{"t":4.24,"v":-69},{"t":4.26,"v":-38},{"t":4.28,"v":51},{"t":4.3,"v":20},{"t":4.32,"v":4},{"t":4.35,"v":1},{"t":4.37,"v":-3},{"t":4.39,"v":-7},{"t":4.42,"v":-7},{"t":4.44,"v":-9},{"t":4.46,"v":-15},{"t":4.48,"v":-11},{"t":4.51,"v":-7},{"t":4.53,"v":-7},{"t":4.55,"v":-11},{"t":4.57,"v":4},{"t":4.6,"v":31},{"t":4.62,"v":8},{"t":4.64,"v":-19},{"t":4.67,"v":4},{"t":4.69,"v":8},{"t":4.71,"v":-7},{"t":4.73,"v":-19},{"t":4.76,"v":-23},{"t":4.78,"v":-25},{"t":4.8,"v":1},{"t":4.83,"v":1},{"t":4.85,"v":-7},{"t":4.87,"v":-23},{"t":4.89,"v":-9},{"t":4.92,"v":1},{"t":4.94,"v":8},{"t":4.96,"v":12},{"t":4.99,"v":8},{"t":5.01,"v":3},{"t":5.03,"v":8},{"t":5.05,"v":30},{"t":5.08,"v":20},{"t":5.1,"v":12},{"t":5.12,"v":4},{"t":5.15,"v":-7},{"t":5.17,"v":-15},{"t":5.19,"v":1},{"t":5.21,"v":1},{"t":5.24,"v":2},{"t":5.26,"v":1},{"t":5.28,"v":2},{"t":5.31,"v":3},{"t":5.33,"v":3},{"t":5.35,"v":4},{"t":5.37,"v":4},{"t":5.4,"v":10},{"t":5.42,"v":1},{"t":5.44,"v":-3},{"t":5.47,"v":1},{"t":5.49,"v":3},{"t":5.51,"v":4},{"t":5.53,"v":17},{"t":5.56,"v":-3},{"t":5.58,"v":3},{"t":5.6,"v":-7},{"t":5.63,"v":-20},{"t":5.65,"v":-11},{"t":5.67,"v":-15},{"t":5.69,"v":-7},{"t":5.72,"v":1},{"t":5.74,"v":3},{"t":5.76,"v":12},{"t":5.79,"v":20},{"t":5.81,"v":21},{"t":5.83,"v":34},{"t":5.85,"v":4},{"t":5.88,"v":-23},{"t":5.9,"v":-28},{"t":5.92,"v":-28},{"t":5.94,"v":-40},{"t":5.97,"v":-19},{"t":5.99,"v":1},{"t":6.01,"v":16},{"t":6.04,"v":10},{"t":6.06,"v":39},{"t":6.08,"v":28},{"t":6.1,"v":26},{"t":6.13,"v":4},{"t":6.15,"v":-15},{"t":6.17,"v":-28},{"t":6.2,"v":-15},{"t":6.22,"v":-19},{"t":6.24,"v":-15},{"t":6.26,"v":-15},{"t":6.29,"v":-7},{"t":6.31,"v":8},{"t":6.33,"v":30},{"t":6.36,"v":12},{"t":6.38,"v":20},{"t":6.4,"v":14},{"t":6.42,"v":8},{"t":6.45,"v":-13},{"t":6.47,"v":-15},{"t":6.49,"v":-13},{"t":6.51,"v":-19},{"t":6.54,"v":-11},{"t":6.56,"v":-5},{"t":6.58,"v":1},{"t":6.61,"v":4},{"t":6.63,"v":35},{"t":6.65,"v":18},{"t":6.68,"v":16},{"t":6.7,"v":3},{"t":6.72,"v":-15},{"t":6.75,"v":-23},{"t":6.77,"v":-28},{"t":6.8,"v":-19},{"t":6.82,"v":-5},{"t":6.85,"v":-3},{"t":6.87,"v":1},{"t":6.89,"v":4},{"t":6.92,"v":26},{"t":6.94,"v":20},{"t":6.97,"v":12},{"t":6.99,"v":10},{"t":7.01,"v":-11},{"t":7.04,"v":-15},{"t":7.06,"v":-7},{"t":7.09,"v":-7},{"t":7.11,"v":-1},{"t":7.13,"v":1},{"t":7.16,"v":10},{"t":7.18,"v":10},{"t":7.21,"v":20},{"t":7.23,"v":22},{"t":7.25,"v":16},{"t":7.28,"v":16},{"t":7.3,"v":-7},{"t":7.33,"v":-15},{"t":7.35,"v":-21},{"t":7.37,"v":-21},{"t":7.4,"v":-7},{"t":7.42,"v":3},{"t":7.45,"v":12},{"t":7.47,"v":20},{"t":7.49,"v":24},{"t":7.52,"v":18},{"t":7.54,"v":14},{"t":7.57,"v":-3},{"t":7.59,"v":-13},{"t":7.61,"v":-21},{"t":7.64,"v":-21},{"t":7.66,"v":-25},{"t":7.69,"v":-7},{"t":7.71,"v":-3},{"t":7.73,"v":1},{"t":7.76,"v":8},{"t":7.78,"v":20},{"t":7.81,"v":28},{"t":7.83,"v":20},{"t":7.86,"v":-9},{"t":7.88,"v":-19},{"t":7.9,"v":-32},{"t":7.93,"v":-50},{"t":7.95,"v":-23},{"t":7.98,"v":-7},{"t":8,"v":-9},{"t":8.02,"v":4},{"t":8.05,"v":12},{"t":8.07,"v":32},{"t":8.1,"v":47},{"t":8.11,"v":61},{"t":8.13,"v":20},{"t":8.15,"v":22},{"t":8.17,"v":28},{"t":8.19,"v":12},{"t":8.22,"v":-3},{"t":8.24,"v":-11},{"t":8.26,"v":-17},{"t":8.28,"v":8},{"t":8.3,"v":20},{"t":8.33,"v":28},{"t":8.35,"v":16},{"t":8.37,"v":12},{"t":8.4,"v":4},{"t":8.42,"v":14},{"t":8.45,"v":8},{"t":8.47,"v":-3},{"t":8.49,"v":-11},{"t":8.52,"v":-19},{"t":8.54,"v":-28},{"t":8.56,"v":-25},{"t":8.58,"v":-32},{"t":8.59,"v":-70},{"t":8.61,"v":-32},{"t":8.62,"v":-7},{"t":8.65,"v":12},{"t":8.67,"v":8},{"t":8.7,"v":1},{"t":8.72,"v":-7},{"t":8.74,"v":-21},{"t":8.77,"v":1},{"t":8.79,"v":-19},{"t":8.82,"v":-15},{"t":8.84,"v":3},{"t":8.87,"v":35},{"t":8.89,"v":40},{"t":8.91,"v":41},{"t":8.94,"v":16},{"t":8.96,"v":20},{"t":8.99,"v":40},{"t":9.01,"v":20},{"t":9.03,"v":4},{"t":9.06,"v":8},{"t":9.08,"v":12},{"t":9.11,"v":4},{"t":9.13,"v":12},{"t":9.15,"v":8},{"t":9.18,"v":12},{"t":9.2,"v":3},{"t":9.23,"v":4},{"t":9.25,"v":1},{"t":9.27,"v":-3},{"t":9.3,"v":-7},{"t":9.32,"v":20},{"t":9.35,"v":20},{"t":9.37,"v":1},{"t":9.39,"v":1},{"t":9.42,"v":-3},{"t":9.44,"v":1},{"t":9.47,"v":-32},{"t":9.49,"v":-48},{"t":9.51,"v":-3},{"t":9.54,"v":-19},{"t":9.56,"v":-15},{"t":9.59,"v":-13},{"t":9.61,"v":-11},{"t":9.63,"v":-3},{"t":9.66,"v":1},{"t":9.68,"v":-7},{"t":9.71,"v":-11},{"t":9.73,"v":-3},{"t":9.75,"v":1},{"t":9.78,"v":4},{"t":9.8,"v":3},{"t":9.83,"v":1},{"t":9.85,"v":-1},{"t":9.87,"v":-11},{"t":9.9,"v":-1},{"t":9.92,"v":1},{"t":9.95,"v":2},{"t":9.97,"v":1},{"t":9.99,"v":0},{"t":10.02,"v":-19},{"t":10.04,"v":-46},{"t":10.07,"v":-89},{"t":10.09,"v":-91},{"t":10.11,"v":-30},{"t":10.13,"v":-59},{"t":10.14,"v":-30},{"t":10.16,"v":-56},{"t":10.18,"v":-7},{"t":10.2,"v":-7},{"t":10.22,"v":20},{"t":10.24,"v":90},{"t":10.26,"v":41},{"t":10.28,"v":32},{"t":10.31,"v":20},{"t":10.33,"v":-7},{"t":10.36,"v":-5},{"t":10.38,"v":1},{"t":10.4,"v":-1},{"t":10.43,"v":-3},{"t":10.45,"v":-7},{"t":10.48,"v":-5},{"t":10.5,"v":-9},{"t":10.52,"v":-5},{"t":10.55,"v":-1},{"t":10.57,"v":1},{"t":10.6,"v":1},{"t":10.62,"v":2},{"t":10.64,"v":3},{"t":10.67,"v":8},{"t":10.69,"v":14},{"t":10.72,"v":4},{"t":10.74,"v":4},{"t":10.76,"v":1},{"t":10.79,"v":6},{"t":10.81,"v":32},{"t":10.84,"v":20},{"t":10.86,"v":-7},{"t":10.88,"v":-58},{"t":10.9,"v":-70},{"t":10.92,"v":-3},{"t":10.95,"v":10},{"t":10.97,"v":1},{"t":10.99,"v":1},{"t":11.02,"v":39},{"t":11.04,"v":32},{"t":11.07,"v":59},{"t":11.09,"v":47},{"t":11.12,"v":28},{"t":11.14,"v":12},{"t":11.16,"v":3},{"t":11.19,"v":1},{"t":11.21,"v":-1},{"t":11.24,"v":-5},{"t":11.26,"v":1},{"t":11.28,"v":6},{"t":11.31,"v":-7},{"t":11.33,"v":-5},{"t":11.36,"v":-30},{"t":11.38,"v":-87},{"t":11.4,"v":-19},{"t":11.42,"v":-21},{"t":11.44,"v":-100},{"t":11.46,"v":-7},{"t":11.49,"v":20},{"t":11.51,"v":20},{"t":11.53,"v":12},{"t":11.56,"v":4},{"t":11.58,"v":1},{"t":11.61,"v":8},{"t":11.63,"v":-3},{"t":11.65,"v":-1},{"t":11.68,"v":-7},{"t":11.7,"v":-3},{"t":11.73,"v":-1},{"t":11.75,"v":-5},{"t":11.77,"v":1},{"t":11.8,"v":-1},{"t":11.82,"v":0},{"t":11.85,"v":-1},{"t":11.87,"v":-3},{"t":11.89,"v":-3},{"t":11.92,"v":-21},{"t":11.94,"v":1},{"t":11.97,"v":10},{"t":11.99,"v":8},{"t":12,"v":3}],
"brg": [{"s":"a","t":0,"v":3},{"s":"a","t":0.03,"v":0},{"s":"a","t":0.08,"v":-2},{"s":"a","t":0.15,"v":-4},{"s":"a","t":0.19,"v":-5},{"s":"a","t":0.24,"v":6},{"s":"a","t":0.28,"v":14},{"s":"a","t":0.33,"v":19},{"s":"a","t":0.38,"v":20},{"s":"a","t":0.42,"v":19},{"s":"a","t":0.47,"v":16},{"s":"a","t":0.51,"v":12},{"s":"a","t":0.56,"v":8},{"s":"a","t":0.61,"v":4},{"s":"a","t":0.65,"v":1},{"s":"a","t":0.7,"v":-3},{"s":"a","t":0.74,"v":-9},{"s":"a","t":0.79,"v":-12},{"s":"a","t":0.83,"v":-15},{"s":"a","t":0.88,"v":-17},{"s":"a","t":0.92,"v":-18},{"s":"a","t":0.97,"v":-18},{"s":"a","t":1.02,"v":-17},{"s":"a","t":1.06,"v":-15},{"s":"a","t":1.11,"v":-11},{"s":"a","t":1.15,"v":-5},{"s":"a","t":1.2,"v":3},{"s":"a","t":1.24,"v":12},{"s":"a","t":1.29,"v":24},{"s":"a","t":1.33,"v":34},{"s":"a","t":1.38,"v":41},{"s":"a","t":1.43,"v":51},{"s":"a","t":1.47,"v":59},{"s":"a","t":1.52,"v":64},{"s":"a","t":1.56,"v":70},{"s":"a","t":1.61,"v":73},{"s":"a","t":1.65,"v":78},{"s":"a","t":1.7,"v":84},{"s":"a","t":1.75,"v":91},{"s":"a","t":1.78,"v":100},{"s":"b","t":2.81,"v":100},{"s":"b","t":2.82,"v":12},{"s":"b","t":2.86,"v":9},{"s":"b","t":2.93,"v":6},{"s":"b","t":3.02,"v":3},{"s":"b","t":3.11,"v":2},{"s":"b","t":3.21,"v":-1},{"s":"b","t":3.3,"v":-5},{"s":"b","t":3.37,"v":-9},{"s":"b","t":3.39,"v":-13},{"s":"b","t":3.41,"v":11},{"s":"b","t":3.43,"v":11},{"s":"b","t":3.5,"v":7},{"s":"b","t":3.57,"v":3},{"s":"b","t":3.64,"v":0},{"s":"b","t":3.71,"v":-2},{"s":"b","t":3.78,"v":-1},{"s":"b","t":3.8,"v":12},{"s":"b","t":3.84,"v":12},{"s":"b","t":3.91,"v":8},{"s":"b","t":3.98,"v":3},{"s":"b","t":4.07,"v":-1},{"s":"b","t":4.16,"v":-4},{"s":"b","t":4.21,"v":-1},{"s":"b","t":4.26,"v":8},{"s":"b","t":4.3,"v":11},{"s":"b","t":4.37,"v":9},{"s":"b","t":4.44,"v":5},{"s":"b","t":4.51,"v":1},{"s":"b","t":4.52,"v":23},{"s":"b","t":4.55,"v":21},{"s":"b","t":4.62,"v":16},{"s":"b","t":4.71,"v":11},{"s":"b","t":4.8,"v":4},{"s":"b","t":4.89,"v":0},{"s":"b","t":4.99,"v":-4},{"s":"b","t":5.02,"v":17},{"s":"b","t":5.05,"v":8},{"s":"b","t":5.1,"v":1},{"s":"b","t":5.17,"v":-3},{"s":"b","t":5.26,"v":-4},{"s":"b","t":5.35,"v":-1},{"s":"b","t":5.44,"v":2},{"s":"b","t":5.53,"v":4},{"s":"b","t":5.63,"v":6},{"s":"b","t":5.72,"v":6},{"s":"b","t":5.81,"v":5},{"s":"b","t":5.9,"v":3},{"s":"b","t":5.99,"v":2},{"s":"b","t":6.08,"v":1},{"s":"b","t":6.17,"v":2},{"s":"b","t":6.26,"v":3},{"s":"b","t":6.36,"v":5},{"s":"b","t":6.45,"v":8},{"s":"b","t":6.54,"v":10},{"s":"b","t":6.62,"v":10},{"s":"b","t":6.72,"v":7},{"s":"b","t":6.8,"v":4},{"s":"b","t":6.87,"v":1},{"s":"b","t":6.94,"v":-3},{"s":"b","t":7.01,"v":-8},{"s":"b","t":7.09,"v":-12},{"s":"b","t":7.16,"v":-16},{"s":"b","t":7.21,"v":-16},{"s":"b","t":7.28,"v":-13},{"s":"b","t":7.35,"v":-5},{"s":"b","t":7.42,"v":12},{"s":"b","t":7.47,"v":26},{"s":"b","t":7.52,"v":39},{"s":"b","t":7.57,"v":47},{"s":"b","t":7.61,"v":66},{"s":"b","t":7.66,"v":76},{"s":"b","t":7.71,"v":88},{"s":"b","t":7.76,"v":92},{"s":"b","t":7.81,"v":89},{"s":"b","t":7.83,"v":80},{"s":"b","t":7.86,"v":70},{"s":"b","t":7.9,"v":61},{"s":"b","t":7.93,"v":32},{"s":"b","t":7.95,"v":-3},{"s":"b","t":7.98,"v":-27},{"s":"b","t":8,"v":-56},{"s":"b","t":8.02,"v":-85},{"s":"b","t":8.05,"v":-100},{"s":"c","t":8.085,"v":-100},{"s":"c","t":8.09,"v":13},{"s":"c","t":8.14,"v":8},{"s":"c","t":8.19,"v":3},{"s":"c","t":8.24,"v":-1},{"s":"c","t":8.34,"v":-2},{"s":"c","t":8.43,"v":-1},{"s":"c","t":8.48,"v":-3},{"s":"c","t":8.53,"v":-7},{"s":"c","t":8.58,"v":-13},{"s":"c","t":8.61,"v":-19},{"s":"c","t":8.62,"v":11},{"s":"c","t":8.7,"v":11},{"s":"c","t":8.77,"v":8},{"s":"c","t":8.87,"v":3},{"s":"c","t":8.96,"v":-1},{"s":"c","t":9.06,"v":-3},{"s":"c","t":9.15,"v":-5},{"s":"c","t":9.23,"v":-7},{"s":"c","t":9.27,"v":-11},{"s":"c","t":9.31,"v":-16},{"s":"c","t":9.35,"v":-3},{"s":"c","t":9.39,"v":5},{"s":"c","t":9.44,"v":11},{"s":"c","t":9.49,"v":12},{"s":"c","t":9.54,"v":8},{"s":"c","t":9.61,"v":4},{"s":"c","t":9.68,"v":1},{"s":"c","t":9.78,"v":-3},{"s":"c","t":9.87,"v":-3},{"s":"c","t":9.97,"v":-5},{"s":"c","t":10.04,"v":-9},{"s":"c","t":10.09,"v":-13},{"s":"c","t":10.13,"v":-17},{"s":"c","t":10.14,"v":-5},{"s":"c","t":10.19,"v":4},{"s":"c","t":10.24,"v":10},{"s":"c","t":10.31,"v":11},{"s":"c","t":10.38,"v":7},{"s":"c","t":10.45,"v":3},{"s":"c","t":10.52,"v":0},{"s":"c","t":10.6,"v":-2},{"s":"c","t":10.67,"v":-3},{"s":"c","t":10.72,"v":2},{"s":"c","t":10.76,"v":10},{"s":"c","t":10.8,"v":12},{"s":"c","t":10.82,"v":-1},{"s":"c","t":10.88,"v":-4},{"s":"c","t":10.98,"v":-4},{"s":"c","t":11.08,"v":-5},{"s":"c","t":11.15,"v":-8},{"s":"c","t":11.2,"v":-13},{"s":"c","t":11.25,"v":-18},{"s":"c","t":11.29,"v":-21},{"s":"c","t":11.34,"v":-19},{"s":"c","t":11.39,"v":-11},{"s":"c","t":11.44,"v":1},{"s":"c","t":11.45,"v":12},{"s":"c","t":11.51,"v":8},{"s":"c","t":11.58,"v":3},{"s":"c","t":11.65,"v":-2},{"s":"c","t":11.75,"v":-3},{"s":"c","t":11.85,"v":-3},{"s":"c","t":11.92,"v":-6},{"s":"c","t":11.97,"v":-11},{"s":"c","t":12,"v":-15}],
"brace": [{"b":"L","cx":172,"cy":180},{"b":"L","cx":173,"cy":168},{"b":"L","cx":176,"cy":157},{"b":"L","cx":181,"cy":149},{"b":"L","cx":189,"cy":144},{"b":"L","cx":200,"cy":142},{"b":"L","cx":935,"cy":142},{"b":"L","cx":944,"cy":139},{"b":"L","cx":949,"cy":132},{"b":"L","cx":952,"cy":122},{"b":"L","cx":954,"cy":110},{"b":"L","cx":955,"cy":100},{"b":"L","cx":956,"cy":110},{"b":"L","cx":958,"cy":122},{"b":"L","cx":961,"cy":132},{"b":"L","cx":966,"cy":139},{"b":"L","cx":975,"cy":142},{"b":"L","cx":1707,"cy":142},{"b":"L","cx":1718,"cy":144},{"b":"L","cx":1726,"cy":149},{"b":"L","cx":1731,"cy":157},{"b":"L","cx":1734,"cy":168},{"b":"L","cx":1735,"cy":180},{"b":"R","cx":1800,"cy":180},{"b":"R","cx":1801,"cy":168},{"b":"R","cx":1804,"cy":157},{"b":"R","cx":1809,"cy":149},{"b":"R","cx":1817,"cy":144},{"b":"R","cx":1828,"cy":142},{"b":"R","cx":2563,"cy":142},{"b":"R","cx":2572,"cy":139},{"b":"R","cx":2577,"cy":132},{"b":"R","cx":2580,"cy":122},{"b":"R","cx":2582,"cy":110},{"b":"R","cx":2583,"cy":100},{"b":"R","cx":2584,"cy":110},{"b":"R","cx":2586,"cy":122},{"b":"R","cx":2589,"cy":132},{"b":"R","cx":2594,"cy":139},{"b":"R","cx":2603,"cy":142},{"b":"R","cx":3334,"cy":142},{"b":"R","cx":3345,"cy":144},{"b":"R","cx":3353,"cy":149},{"b":"R","cx":3358,"cy":157},{"b":"R","cx":3361,"cy":168},{"b":"R","cx":3362,"cy":180}],
"outline": [{"cx":2218,"cy":377},{"cx":2218,"cy":330},{"cx":2966,"cy":330},{"cx":2966,"cy":377},{"cx":3113,"cy":377},{"cx":2588,"cy":493},{"cx":2070,"cy":377},{"cx":2218,"cy":377}]
},
"resolve": {"scale": {"x": "independent", "y": "independent"}},
"layer": [
{
"layer": [
{"data": {"values": [{}]}, "mark": {"type": "rect", "filled": false, "stroke": "black", "strokeWidth": 4.5},
 "encoding": {"x": {"datum": 0, "type": "quantitative", "scale": {"domain": [0, 22.5], "range": [205, 1720], "nice": false, "zero": false}, "axis": null}, "x2": {"datum": 22.5}, "y": {"datum": -100, "type": "quantitative", "scale": {"domain": [-100, 100], "range": [708, 479], "nice": false, "zero": false}, "axis": null}, "y2": {"datum": 100}}},
{"data": {"values": [{"t": 5}, {"t": 10}, {"t": 15}, {"t": 20}]}, "mark": {"type": "rule", "color": "black", "strokeWidth": 2},
 "encoding": {"x": {"field": "t", "type": "quantitative", "scale": {"domain": [0, 22.5], "range": [205, 1720], "nice": false, "zero": false}, "axis": null}, "y": {"datum": -100, "type": "quantitative", "scale": {"domain": [-100, 100], "range": [708, 479], "nice": false, "zero": false}, "axis": null}, "y2": {"datum": -85}}},
{"data": {"values": [{"t": 5}, {"t": 10}, {"t": 15}, {"t": 20}]}, "mark": {"type": "rule", "color": "black", "strokeWidth": 2},
 "encoding": {"x": {"field": "t", "type": "quantitative", "scale": {"domain": [0, 22.5], "range": [205, 1720], "nice": false, "zero": false}, "axis": null}, "y": {"datum": 100, "type": "quantitative", "scale": {"domain": [-100, 100], "range": [708, 479], "nice": false, "zero": false}, "axis": null}, "y2": {"datum": 87}}},
{"data": {"values": [{"v": -50}, {"v": 50}]}, "mark": {"type": "rule", "color": "#808080", "strokeWidth": 3},
 "encoding": {"y": {"field": "v", "type": "quantitative", "scale": {"domain": [-100, 100], "range": [708, 479], "nice": false, "zero": false}, "axis": null}, "x": {"datum": 0, "type": "quantitative", "scale": {"domain": [0, 22.5], "range": [205, 1720], "nice": false, "zero": false}, "axis": null}, "x2": {"datum": 0.49}}},
{"data": {"values": [{"v": -50}, {"v": 50}]}, "mark": {"type": "rule", "color": "#808080", "strokeWidth": 3},
 "encoding": {"y": {"field": "v", "type": "quantitative", "scale": {"domain": [-100, 100], "range": [708, 479], "nice": false, "zero": false}, "axis": null}, "x": {"datum": 22.5, "type": "quantitative", "scale": {"domain": [0, 22.5], "range": [205, 1720], "nice": false, "zero": false}, "axis": null}, "x2": {"datum": 21.92}}},
{"data": {"name": "tl"}, "mark": {"type": "line", "color": "#0000FF", "strokeWidth": 5.5, "strokeJoin": "round"},
 "encoding": {"x": {"field": "t", "type": "quantitative", "scale": {"domain": [0, 22.5], "range": [205, 1720], "nice": false, "zero": false}, "axis": null}, "y": {"field": "v", "type": "quantitative", "scale": {"domain": [-100, 100], "range": [708, 479], "nice": false, "zero": false}, "axis": null}, "order": {"value": null}}}
]
},
{
"layer": [
{"data": {"values": [{}]}, "mark": {"type": "rect", "filled": false, "stroke": "black", "strokeWidth": 4.5},
 "encoding": {"x": {"datum": 0.25, "type": "quantitative", "scale": {"domain": [0, 15], "range": [1820, 3332], "nice": false, "zero": false}, "axis": null}, "x2": {"datum": 15}, "y": {"datum": -100, "type": "quantitative", "scale": {"domain": [-100, 100], "range": [707, 479], "nice": false, "zero": false}, "axis": null}, "y2": {"datum": 100}}},
{"data": {"values": [{"t": 2.33}, {"t": 4.25}, {"t": 7.5}, {"t": 10.78}, {"t": 14.05}]}, "mark": {"type": "rule", "color": "black", "strokeWidth": 2.5},
 "encoding": {"x": {"field": "t", "type": "quantitative", "scale": {"domain": [0, 15], "range": [1820, 3332], "nice": false, "zero": false}, "axis": null}, "y": {"datum": -100, "type": "quantitative", "scale": {"domain": [-100, 100], "range": [707, 479], "nice": false, "zero": false}, "axis": null}, "y2": {"datum": -83}}},
{"data": {"values": [{"t": 2.33}, {"t": 4.25}, {"t": 7.5}, {"t": 10.78}, {"t": 14.05}]}, "mark": {"type": "rule", "color": "black", "strokeWidth": 2.5},
 "encoding": {"x": {"field": "t", "type": "quantitative", "scale": {"domain": [0, 15], "range": [1820, 3332], "nice": false, "zero": false}, "axis": null}, "y": {"datum": 100, "type": "quantitative", "scale": {"domain": [-100, 100], "range": [707, 479], "nice": false, "zero": false}, "axis": null}, "y2": {"datum": 87}}},
{"data": {"values": [{"v": -100}, {"v": -50}, {"v": 0}, {"v": 50}, {"v": 100}]}, "mark": {"type": "rule", "color": "black", "strokeWidth": 4.5},
 "encoding": {"y": {"field": "v", "type": "quantitative", "scale": {"domain": [-100, 100], "range": [707, 479], "nice": false, "zero": false}, "axis": null}, "x": {"datum": 15, "type": "quantitative", "scale": {"domain": [0, 15], "range": [1820, 3332], "nice": false, "zero": false}, "axis": null}, "x2": {"datum": 14.61}}},
{"data": {"name": "trb"}, "mark": {"type": "line", "color": "#0000FF", "strokeWidth": 5, "strokeJoin": "round"},
 "encoding": {"x": {"field": "t", "type": "quantitative", "scale": {"domain": [0, 15], "range": [1820, 3332], "nice": false, "zero": false}, "axis": null}, "y": {"field": "v", "type": "quantitative", "scale": {"domain": [-100, 100], "range": [707, 479], "nice": false, "zero": false}, "axis": null}, "order": {"value": null}}},
{"data": {"name": "trr"}, "mark": {"type": "line", "color": "#FF0000", "strokeWidth": 9, "strokeJoin": "round", "strokeCap": "round"},
 "encoding": {"x": {"field": "t", "type": "quantitative", "scale": {"domain": [0, 15], "range": [1820, 3332], "nice": false, "zero": false}, "axis": null}, "y": {"field": "v", "type": "quantitative", "scale": {"domain": [-100, 100], "range": [707, 479], "nice": false, "zero": false}, "axis": null}, "detail": {"field": "s", "type": "nominal"}, "order": {"value": null}}}
]
},
{
"layer": [
{"data": {"values": [{}]}, "mark": {"type": "rect", "filled": false, "stroke": "#333333", "strokeWidth": 2.5},
 "encoding": {"x": {"datum": 0, "type": "quantitative", "scale": {"domain": [0, 12.04], "range": [389, 1732], "nice": false, "zero": false}, "axis": null}, "x2": {"datum": 12.04}, "y": {"datum": -100, "type": "quantitative", "scale": {"domain": [-100, 100], "range": [1274, 930], "nice": false, "zero": false}, "axis": null}, "y2": {"datum": 100}}},
{"data": {"values": [{"t": 2}, {"t": 4}, {"t": 6}, {"t": 8}, {"t": 10}]}, "mark": {"type": "rule", "color": "#555555", "strokeWidth": 2},
 "encoding": {"x": {"field": "t", "type": "quantitative", "scale": {"domain": [0, 12.04], "range": [389, 1732], "nice": false, "zero": false}, "axis": null}, "y": {"datum": -100, "type": "quantitative", "scale": {"domain": [-100, 100], "range": [1274, 930], "nice": false, "zero": false}, "axis": null}, "y2": {"datum": -93}}},
{"data": {"values": [{"t": 2}, {"t": 4}, {"t": 6}, {"t": 8}, {"t": 10}]}, "mark": {"type": "rule", "color": "#555555", "strokeWidth": 2},
 "encoding": {"x": {"field": "t", "type": "quantitative", "scale": {"domain": [0, 12.04], "range": [389, 1732], "nice": false, "zero": false}, "axis": null}, "y": {"datum": 100, "type": "quantitative", "scale": {"domain": [-100, 100], "range": [1274, 930], "nice": false, "zero": false}, "axis": null}, "y2": {"datum": 93}}},
{"data": {"values": [{"v": -50}, {"v": 50}]}, "mark": {"type": "rule", "color": "#555555", "strokeWidth": 2},
 "encoding": {"y": {"field": "v", "type": "quantitative", "scale": {"domain": [-100, 100], "range": [1274, 930], "nice": false, "zero": false}, "axis": null}, "x": {"datum": 0, "type": "quantitative", "scale": {"domain": [0, 12.04], "range": [389, 1732], "nice": false, "zero": false}, "axis": null}, "x2": {"datum": 0.125}}},
{"data": {"values": [{"v": -50}, {"v": 50}]}, "mark": {"type": "rule", "color": "#555555", "strokeWidth": 2},
 "encoding": {"y": {"field": "v", "type": "quantitative", "scale": {"domain": [-100, 100], "range": [1274, 930], "nice": false, "zero": false}, "axis": null}, "x": {"datum": 12.04, "type": "quantitative", "scale": {"domain": [0, 12.04], "range": [389, 1732], "nice": false, "zero": false}, "axis": null}, "x2": {"datum": 11.905}}},
{"data": {"values": [{"t": 0, "label": "0"}, {"t": 2, "label": "2"}, {"t": 4, "label": "4"}, {"t": 6, "label": "6"}, {"t": 8, "label": "8"}, {"t": 11.26, "label": "[sec.]"}]}, "mark": {"type": "text", "fontSize": 84, "align": "center", "baseline": "alphabetic", "dy": 101, "color": "black"},
 "encoding": {"x": {"field": "t", "type": "quantitative", "scale": {"domain": [0, 12.04], "range": [389, 1732], "nice": false, "zero": false}, "axis": null}, "y": {"datum": -100, "type": "quantitative", "scale": {"domain": [-100, 100], "range": [1274, 930], "nice": false, "zero": false}, "axis": null}, "text": {"field": "label"}}},
{"data": {"values": [{"v": 100, "label": "100"}, {"v": -100, "label": "-100"}]}, "mark": {"type": "text", "fontSize": 80, "align": "right", "baseline": "middle", "dx": -23, "color": "black"},
 "encoding": {"y": {"field": "v", "type": "quantitative", "scale": {"domain": [-100, 100], "range": [1274, 930], "nice": false, "zero": false}, "axis": null}, "x": {"datum": 0, "type": "quantitative", "scale": {"domain": [0, 12.04], "range": [389, 1732], "nice": false, "zero": false}, "axis": null}, "text": {"field": "label"}}},
{"data": {"values": [{"v": 0, "label": "0"}]}, "mark": {"type": "text", "fontSize": 80, "align": "right", "baseline": "middle", "dx": -23, "dy": 20, "color": "black"},
 "encoding": {"y": {"field": "v", "type": "quantitative", "scale": {"domain": [-100, 100], "range": [1274, 930], "nice": false, "zero": false}, "axis": null}, "x": {"datum": 0, "type": "quantitative", "scale": {"domain": [0, 12.04], "range": [389, 1732], "nice": false, "zero": false}, "axis": null}, "text": {"field": "label"}}},
{"data": {"name": "blb"}, "mark": {"type": "line", "color": "#0000FF", "strokeWidth": 4, "strokeJoin": "round"},
 "encoding": {"x": {"field": "t", "type": "quantitative", "scale": {"domain": [0, 12.04], "range": [389, 1732], "nice": false, "zero": false}, "axis": null}, "y": {"field": "v", "type": "quantitative", "scale": {"domain": [-100, 100], "range": [1274, 930], "nice": false, "zero": false}, "axis": null}, "order": {"value": null}}},
{"data": {"name": "blr"}, "mark": {"type": "line", "color": "#FF0000", "strokeWidth": 8, "strokeJoin": "round"},
 "encoding": {"x": {"field": "t", "type": "quantitative", "scale": {"domain": [0, 12.04], "range": [389, 1732], "nice": false, "zero": false}, "axis": null}, "y": {"field": "v", "type": "quantitative", "scale": {"domain": [-100, 100], "range": [1274, 930], "nice": false, "zero": false}, "axis": null}, "order": {"value": null}}}
]
},
{
"layer": [
{"data": {"values": [{}]}, "mark": {"type": "rect", "filled": false, "stroke": "#333333", "strokeWidth": 2.5},
 "encoding": {"x": {"datum": 0, "type": "quantitative", "scale": {"domain": [0, 12], "range": [1960, 3302], "nice": false, "zero": false}, "axis": null}, "x2": {"datum": 12}, "y": {"datum": -100, "type": "quantitative", "scale": {"domain": [-100, 100], "range": [1273, 929], "nice": false, "zero": false}, "axis": null}, "y2": {"datum": 100}}},
{"data": {"values": [{"t": 2}, {"t": 4}, {"t": 6}, {"t": 8}, {"t": 10}]}, "mark": {"type": "rule", "color": "#555555", "strokeWidth": 2},
 "encoding": {"x": {"field": "t", "type": "quantitative", "scale": {"domain": [0, 12], "range": [1960, 3302], "nice": false, "zero": false}, "axis": null}, "y": {"datum": -100, "type": "quantitative", "scale": {"domain": [-100, 100], "range": [1273, 929], "nice": false, "zero": false}, "axis": null}, "y2": {"datum": -93}}},
{"data": {"values": [{"t": 2}, {"t": 4}, {"t": 6}, {"t": 8}, {"t": 10}]}, "mark": {"type": "rule", "color": "#555555", "strokeWidth": 2},
 "encoding": {"x": {"field": "t", "type": "quantitative", "scale": {"domain": [0, 12], "range": [1960, 3302], "nice": false, "zero": false}, "axis": null}, "y": {"datum": 100, "type": "quantitative", "scale": {"domain": [-100, 100], "range": [1273, 929], "nice": false, "zero": false}, "axis": null}, "y2": {"datum": 93}}},
{"data": {"values": [{"v": -50}, {"v": 50}]}, "mark": {"type": "rule", "color": "#555555", "strokeWidth": 2},
 "encoding": {"y": {"field": "v", "type": "quantitative", "scale": {"domain": [-100, 100], "range": [1273, 929], "nice": false, "zero": false}, "axis": null}, "x": {"datum": 0, "type": "quantitative", "scale": {"domain": [0, 12], "range": [1960, 3302], "nice": false, "zero": false}, "axis": null}, "x2": {"datum": 0.125}}},
{"data": {"values": [{"v": -50}, {"v": 50}]}, "mark": {"type": "rule", "color": "#555555", "strokeWidth": 2},
 "encoding": {"y": {"field": "v", "type": "quantitative", "scale": {"domain": [-100, 100], "range": [1273, 929], "nice": false, "zero": false}, "axis": null}, "x": {"datum": 12, "type": "quantitative", "scale": {"domain": [0, 12], "range": [1960, 3302], "nice": false, "zero": false}, "axis": null}, "x2": {"datum": 11.865}}},
{"data": {"values": [{"t": 0, "label": "0"}, {"t": 2, "label": "2"}, {"t": 4, "label": "4"}, {"t": 6, "label": "6"}, {"t": 8, "label": "8"}, {"t": 11.25, "label": "[sec.]"}]}, "mark": {"type": "text", "fontSize": 84, "align": "center", "baseline": "alphabetic", "dy": 102, "color": "black"},
 "encoding": {"x": {"field": "t", "type": "quantitative", "scale": {"domain": [0, 12], "range": [1960, 3302], "nice": false, "zero": false}, "axis": null}, "y": {"datum": -100, "type": "quantitative", "scale": {"domain": [-100, 100], "range": [1273, 929], "nice": false, "zero": false}, "axis": null}, "text": {"field": "label"}}},
{"data": {"name": "brb"}, "mark": {"type": "line", "color": "#0000FF", "strokeWidth": 4, "strokeJoin": "round"},
 "encoding": {"x": {"field": "t", "type": "quantitative", "scale": {"domain": [0, 12], "range": [1960, 3302], "nice": false, "zero": false}, "axis": null}, "y": {"field": "v", "type": "quantitative", "scale": {"domain": [-100, 100], "range": [1273, 929], "nice": false, "zero": false}, "axis": null}, "order": {"value": null}}},
{"data": {"name": "brg"}, "mark": {"type": "line", "color": "#008000", "strokeWidth": 7.5, "strokeJoin": "round"},
 "encoding": {"x": {"field": "t", "type": "quantitative", "scale": {"domain": [0, 12], "range": [1960, 3302], "nice": false, "zero": false}, "axis": null}, "y": {"field": "v", "type": "quantitative", "scale": {"domain": [-100, 100], "range": [1273, 929], "nice": false, "zero": false}, "axis": null}, "detail": {"field": "s", "type": "nominal"}, "order": {"value": null}}}
]
},
{"data": {"name": "blocks"}, "mark": {"type": "rect", "stroke": "black", "strokeWidth": 3},
 "encoding": {
  "x": {"field": "c", "type": "ordinal", "scale": {"type": "band", "domain": ["c1","c2","c3","c4","c5","c6","c7","c8","c9","c10","c11","c12","c13","c14","c15","c16","c17","c18","c19","c20","c21","c22","c23"], "range": [205, 1699], "paddingInner": 0.285, "paddingOuter": 0}, "axis": null},
  "y": {"field": "r", "type": "ordinal", "scale": {"type": "band", "domain": ["r1","r2","r3","r4"], "range": [178, 348], "paddingInner": 0, "paddingOuter": 0}, "axis": null},
  "fill": {"field": "r", "type": "nominal", "scale": {"domain": ["r1","r2","r3","r4"], "range": ["#FCD5B4","#B7DEE8","#D7E4BC","#E6B9B8"]}, "legend": null}}},
{"data": {"name": "blocks"}, "mark": {"type": "rect", "stroke": "black", "strokeWidth": 3, "fill": "#C0504D"},
 "encoding": {
  "x": {"field": "c", "type": "ordinal", "scale": {"type": "band", "domain": ["c1","c2","c3","c4","c5","c6","c7","c8","c9","c10","c11","c12","c13","c14","c15","c16","c17","c18","c19","c20","c21","c22","c23"], "range": [1840, 3334], "paddingInner": 0.285, "paddingOuter": 0}, "axis": null},
  "y": {"field": "r", "type": "ordinal", "scale": {"type": "band", "domain": ["r1","r2","r3","r4"], "range": [180, 351], "paddingInner": 0, "paddingOuter": 0}, "axis": null}}},
{
"layer": [
{"data": {"values": [{"cx": 18, "cx2": 32}, {"cx": 3467, "cx2": 3483}]}, "mark": {"type": "rect", "fill": "#000066"},
 "encoding": {"x": {"field": "cx", "type": "quantitative", "scale": {"domain": [0, 3493], "range": [0, 3493], "nice": false, "zero": false}, "axis": null}, "x2": {"field": "cx2"}, "y": {"datum": 0, "type": "quantitative", "scale": {"domain": [0, 1525], "range": [0, 1525], "nice": false, "zero": false}, "axis": null}, "y2": {"datum": 1525}}},
{"data": {"name": "brace"}, "mark": {"type": "line", "color": "black", "strokeWidth": 8, "strokeJoin": "round"},
 "encoding": {"x": {"field": "cx", "type": "quantitative", "scale": {"domain": [0, 3493], "range": [0, 3493], "nice": false, "zero": false}, "axis": null}, "y": {"field": "cy", "type": "quantitative", "scale": {"domain": [0, 1525], "range": [0, 1525], "nice": false, "zero": false}, "axis": null}, "detail": {"field": "b", "type": "nominal"}, "order": {"value": null}}},
{"data": {"values": [{"cx": 397, "cx2": 1537, "cy": 331, "cy2": 458}]}, "mark": {"type": "rect", "fill": "#FFFFE5", "stroke": "black", "strokeWidth": 9, "cornerRadius": 24},
 "encoding": {"x": {"field": "cx", "type": "quantitative", "scale": {"domain": [0, 3493], "range": [0, 3493], "nice": false, "zero": false}, "axis": null}, "x2": {"field": "cx2"}, "y": {"field": "cy", "type": "quantitative", "scale": {"domain": [0, 1525], "range": [0, 1525], "nice": false, "zero": false}, "axis": null}, "y2": {"field": "cy2"}}},
{"data": {"values": [{"cx": 2218, "cx2": 2966, "cy": 330, "cy2": 378}]}, "mark": {"type": "rect", "fill": "#FFFFCC"},
 "encoding": {"x": {"field": "cx", "type": "quantitative", "scale": {"domain": [0, 3493], "range": [0, 3493], "nice": false, "zero": false}, "axis": null}, "x2": {"field": "cx2"}, "y": {"field": "cy", "type": "quantitative", "scale": {"domain": [0, 1525], "range": [0, 1525], "nice": false, "zero": false}, "axis": null}, "y2": {"field": "cy2"}}},
{"data": {"values": [{"cx": 2070, "cy": 377, "cy2": 377}, {"cx": 2588, "cy": 493, "cy2": 377}, {"cx": 3113, "cy": 377, "cy2": 377}]}, "mark": {"type": "area", "fill": "#FFFFCC"},
 "encoding": {"x": {"field": "cx", "type": "quantitative", "scale": {"domain": [0, 3493], "range": [0, 3493], "nice": false, "zero": false}, "axis": null}, "y": {"field": "cy", "type": "quantitative", "scale": {"domain": [0, 1525], "range": [0, 1525], "nice": false, "zero": false}, "axis": null}, "y2": {"field": "cy2"}}},
{"data": {"name": "outline"}, "mark": {"type": "line", "color": "black", "strokeWidth": 10, "strokeJoin": "bevel"},
 "encoding": {"x": {"field": "cx", "type": "quantitative", "scale": {"domain": [0, 3493], "range": [0, 3493], "nice": false, "zero": false}, "axis": null}, "y": {"field": "cy", "type": "quantitative", "scale": {"domain": [0, 1525], "range": [0, 1525], "nice": false, "zero": false}, "axis": null}, "order": {"value": null}}},
{"data": {"values": [{"label": "Training data (5 songs)", "cx": 965, "cy": 85}, {"label": "Test data (5 songs)", "cx": 2585, "cy": 85}, {"label": "…", "cx": 1301, "cy": 275}, {"label": "…", "cx": 2937, "cy": 271}]}, "mark": {"type": "text", "fontSize": 94, "align": "center", "baseline": "alphabetic", "color": "black"},
 "encoding": {"x": {"field": "cx", "type": "quantitative", "scale": {"domain": [0, 3493], "range": [0, 3493], "nice": false, "zero": false}, "axis": null}, "y": {"field": "cy", "type": "quantitative", "scale": {"domain": [0, 1525], "range": [0, 1525], "nice": false, "zero": false}, "axis": null}, "text": {"field": "label"}}},
{"data": {"values": [{"label": "(a) MoGPEs", "cx": 1015, "cy": 1499}, {"label": "(b) Mixture of polynomial regressions", "cx": 2635, "cy": 1499}]}, "mark": {"type": "text", "fontSize": 96, "align": "center", "baseline": "alphabetic", "color": "black"},
 "encoding": {"x": {"field": "cx", "type": "quantitative", "scale": {"domain": [0, 3493], "range": [0, 3493], "nice": false, "zero": false}, "axis": null}, "y": {"field": "cy", "type": "quantitative", "scale": {"domain": [0, 1525], "range": [0, 1525], "nice": false, "zero": false}, "axis": null}, "text": {"field": "label"}}},
{"data": {"values": [{"label": "[cent]", "cx": 127, "cy": 1008}]}, "mark": {"type": "text", "fontSize": 82, "align": "center", "baseline": "middle", "angle": 270, "color": "black"},
 "encoding": {"x": {"field": "cx", "type": "quantitative", "scale": {"domain": [0, 3493], "range": [0, 3493], "nice": false, "zero": false}, "axis": null}, "y": {"field": "cy", "type": "quantitative", "scale": {"domain": [0, 1525], "range": [0, 1525], "nice": false, "zero": false}, "axis": null}, "text": {"field": "label"}}},
{"data": {"values": [{"label": "•", "cx": 209, "cy": 860}, {"label": "Prediction results", "cx": 301, "cy": 860}]}, "mark": {"type": "text", "fontSize": 105, "align": "left", "baseline": "alphabetic", "color": "black"},
 "encoding": {"x": {"field": "cx", "type": "quantitative", "scale": {"domain": [0, 3493], "range": [0, 3493], "nice": false, "zero": false}, "axis": null}, "y": {"field": "cy", "type": "quantitative", "scale": {"domain": [0, 1525], "range": [0, 1525], "nice": false, "zero": false}, "axis": null}, "text": {"field": "label"}}},
{"data": {"values": [{"label": "Parameter estimation", "cx": 967, "cy": 432}]}, "mark": {"type": "text", "fontSize": 95, "fontWeight": "bold", "align": "center", "baseline": "alphabetic", "color": "black"},
 "encoding": {"x": {"field": "cx", "type": "quantitative", "scale": {"domain": [0, 3493], "range": [0, 3493], "nice": false, "zero": false}, "axis": null}, "y": {"field": "cy", "type": "quantitative", "scale": {"domain": [0, 1525], "range": [0, 1525], "nice": false, "zero": false}, "axis": null}, "text": {"field": "label"}}},
{"data": {"values": [{"label": "Prediction", "cx": 2591, "cy": 433}]}, "mark": {"type": "text", "fontSize": 95, "fontWeight": "bold", "align": "center", "baseline": "alphabetic", "color": "#C00000"},
 "encoding": {"x": {"field": "cx", "type": "quantitative", "scale": {"domain": [0, 3493], "range": [0, 3493], "nice": false, "zero": false}, "axis": null}, "y": {"field": "cy", "type": "quantitative", "scale": {"domain": [0, 1525], "range": [0, 1525], "nice": false, "zero": false}, "axis": null}, "text": {"field": "label"}}}
]
}
]
}
